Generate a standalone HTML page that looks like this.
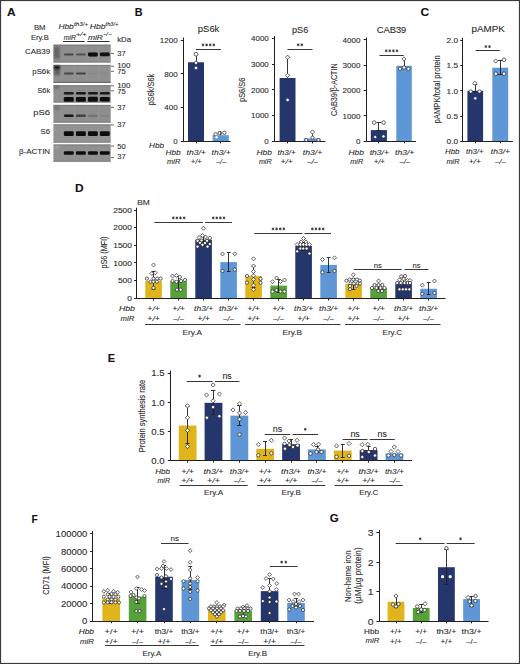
<!DOCTYPE html>
<html><head><meta charset="utf-8"><style>
html,body{margin:0;padding:0;background:#fff;}
body{width:520px;height:664px;overflow:hidden;position:relative;}
svg{position:absolute;left:0;top:0;}
text{font-family:"Liberation Sans",sans-serif;stroke:#2b2b2b;stroke-width:0.1px;}
</style></head><body>
<svg width="520" height="664" viewBox="0 0 520 664">
<defs>
<filter id="bl1" x="-50%" y="-50%" width="200%" height="200%"><feGaussianBlur stdDeviation="0.9"/></filter>
<filter id="bl2" x="-50%" y="-50%" width="200%" height="200%"><feGaussianBlur stdDeviation="0.6"/></filter>
</defs>
<rect x="0" y="0" width="520" height="664" fill="#fff"/>
<text x="7.00" y="15.80" font-size="10.00" fill="#111" style="font-weight:bold" textLength="8.60" lengthAdjust="spacingAndGlyphs">A</text>
<text x="33.90" y="29.60" font-size="7.60" fill="#2b2b2b" textLength="11.60" lengthAdjust="spacingAndGlyphs">BM</text>
<text x="30.90" y="39.70" font-size="7.60" fill="#2b2b2b" textLength="18.00" lengthAdjust="spacingAndGlyphs">Ery.B</text>
<text x="58.40" y="29.40" font-size="7.60" fill="#2b2b2b" style="font-style:italic" textLength="15.40" lengthAdjust="spacingAndGlyphs">Hbb</text>
<text x="74.10" y="26.30" font-size="5.00" fill="#2b2b2b" style="font-style:italic" textLength="13.90" lengthAdjust="spacingAndGlyphs">th3/+</text>
<text x="89.70" y="29.40" font-size="7.60" fill="#2b2b2b" style="font-style:italic" textLength="15.80" lengthAdjust="spacingAndGlyphs">Hbb</text>
<text x="105.60" y="26.30" font-size="5.00" fill="#2b2b2b" style="font-style:italic" textLength="12.70" lengthAdjust="spacingAndGlyphs">th3/+</text>
<text x="63.70" y="39.50" font-size="7.40" fill="#2b2b2b" style="font-style:italic" textLength="12.20" lengthAdjust="spacingAndGlyphs">miR</text>
<text x="76.00" y="36.30" font-size="5.00" fill="#2b2b2b" style="font-style:italic" textLength="10.60" lengthAdjust="spacingAndGlyphs">+/+</text>
<text x="88.00" y="39.50" font-size="7.40" fill="#2b2b2b" style="font-style:italic" textLength="14.80" lengthAdjust="spacingAndGlyphs">miR</text>
<text x="102.90" y="36.30" font-size="5.00" fill="#2b2b2b" style="font-style:italic" textLength="8.60" lengthAdjust="spacingAndGlyphs">−/−</text>
<line x1="63.10" y1="41.50" x2="84.60" y2="41.50" stroke="#2a2a2a" stroke-width="1.00"/>
<line x1="87.30" y1="41.50" x2="109.50" y2="41.50" stroke="#2a2a2a" stroke-width="1.00"/>
<text x="117.20" y="42.40" font-size="7.60" fill="#2b2b2b" textLength="13.80" lengthAdjust="spacingAndGlyphs">kDa</text>
<rect x="53.40" y="44.60" width="57.30" height="18.00" fill="#8f8f8f"/>
<rect x="61.20" y="45.60" width="1.2" height="16.00" fill="#b0b0b0" opacity="0.15"/>
<rect x="73.80" y="45.60" width="1.2" height="16.00" fill="#b0b0b0" opacity="0.15"/>
<rect x="85.70" y="45.60" width="1.2" height="16.00" fill="#b0b0b0" opacity="0.15"/>
<rect x="98.00" y="45.60" width="1.2" height="16.00" fill="#b0b0b0" opacity="0.15"/>
<rect x="53.40" y="44.60" width="57.30" height="1.2" fill="#6a6a6a" opacity="0.45"/>
<rect x="53.40" y="61.60" width="57.30" height="1.0" fill="#505050" opacity="0.35"/>
<text x="24.90" y="53.75" font-size="7.80" fill="#2b2b2b" textLength="25.20" lengthAdjust="spacingAndGlyphs">CAB39</text>
<rect x="53.40" y="64.90" width="57.30" height="17.90" fill="#909090"/>
<rect x="61.20" y="65.90" width="1.2" height="15.90" fill="#b0b0b0" opacity="0.15"/>
<rect x="73.80" y="65.90" width="1.2" height="15.90" fill="#b0b0b0" opacity="0.15"/>
<rect x="85.70" y="65.90" width="1.2" height="15.90" fill="#b0b0b0" opacity="0.15"/>
<rect x="98.00" y="65.90" width="1.2" height="15.90" fill="#b0b0b0" opacity="0.15"/>
<rect x="53.40" y="64.90" width="57.30" height="1.2" fill="#6a6a6a" opacity="0.45"/>
<rect x="53.40" y="81.80" width="57.30" height="1.0" fill="#505050" opacity="0.80"/>
<text x="32.30" y="73.80" font-size="7.80" fill="#2b2b2b" textLength="17.80" lengthAdjust="spacingAndGlyphs">pS6k</text>
<rect x="53.40" y="85.10" width="57.30" height="17.50" fill="#8e8e8e"/>
<rect x="61.20" y="86.10" width="1.2" height="15.50" fill="#b0b0b0" opacity="0.15"/>
<rect x="73.80" y="86.10" width="1.2" height="15.50" fill="#b0b0b0" opacity="0.15"/>
<rect x="85.70" y="86.10" width="1.2" height="15.50" fill="#b0b0b0" opacity="0.15"/>
<rect x="98.00" y="86.10" width="1.2" height="15.50" fill="#b0b0b0" opacity="0.15"/>
<rect x="53.40" y="85.10" width="57.30" height="1.2" fill="#6a6a6a" opacity="0.45"/>
<rect x="53.40" y="101.60" width="57.30" height="1.0" fill="#505050" opacity="0.35"/>
<text x="37.40" y="93.40" font-size="7.80" fill="#2b2b2b" textLength="12.70" lengthAdjust="spacingAndGlyphs">S6k</text>
<rect x="53.40" y="104.90" width="57.30" height="17.80" fill="#8e8e8e"/>
<rect x="61.20" y="105.90" width="1.2" height="15.80" fill="#b0b0b0" opacity="0.15"/>
<rect x="73.80" y="105.90" width="1.2" height="15.80" fill="#b0b0b0" opacity="0.15"/>
<rect x="85.70" y="105.90" width="1.2" height="15.80" fill="#b0b0b0" opacity="0.15"/>
<rect x="98.00" y="105.90" width="1.2" height="15.80" fill="#b0b0b0" opacity="0.15"/>
<rect x="53.40" y="104.90" width="57.30" height="1.2" fill="#6a6a6a" opacity="0.45"/>
<rect x="53.40" y="121.70" width="57.30" height="1.0" fill="#505050" opacity="0.35"/>
<text x="33.20" y="114.60" font-size="7.80" fill="#2b2b2b" textLength="16.90" lengthAdjust="spacingAndGlyphs">pS6</text>
<rect x="53.40" y="124.30" width="57.30" height="18.40" fill="#939393"/>
<rect x="61.20" y="125.30" width="1.2" height="16.40" fill="#b0b0b0" opacity="0.15"/>
<rect x="73.80" y="125.30" width="1.2" height="16.40" fill="#b0b0b0" opacity="0.15"/>
<rect x="85.70" y="125.30" width="1.2" height="16.40" fill="#b0b0b0" opacity="0.15"/>
<rect x="98.00" y="125.30" width="1.2" height="16.40" fill="#b0b0b0" opacity="0.15"/>
<rect x="53.40" y="124.30" width="57.30" height="1.2" fill="#6a6a6a" opacity="0.45"/>
<rect x="53.40" y="141.70" width="57.30" height="1.0" fill="#505050" opacity="0.35"/>
<text x="40.60" y="134.00" font-size="7.80" fill="#2b2b2b" textLength="9.50" lengthAdjust="spacingAndGlyphs">S6</text>
<rect x="53.40" y="144.40" width="57.30" height="17.40" fill="#8f8f8f"/>
<rect x="61.20" y="145.40" width="1.2" height="15.40" fill="#b0b0b0" opacity="0.15"/>
<rect x="73.80" y="145.40" width="1.2" height="15.40" fill="#b0b0b0" opacity="0.15"/>
<rect x="85.70" y="145.40" width="1.2" height="15.40" fill="#b0b0b0" opacity="0.15"/>
<rect x="98.00" y="145.40" width="1.2" height="15.40" fill="#b0b0b0" opacity="0.15"/>
<rect x="53.40" y="144.40" width="57.30" height="1.2" fill="#6a6a6a" opacity="0.45"/>
<rect x="53.40" y="160.80" width="57.30" height="1.0" fill="#505050" opacity="0.35"/>
<text x="19.00" y="153.50" font-size="7.80" fill="#2b2b2b" textLength="31.10" lengthAdjust="spacingAndGlyphs">β-ACTIN</text>
<g filter="url(#bl1)">
<rect x="54.0" y="46.5" width="5.8" height="12" fill="#4a4a4a" opacity="0.6"/>
<rect x="54.0" y="65.8" width="6.0" height="3.4" fill="#050505" opacity="0.95"/>
<rect x="54.0" y="69.2" width="6.0" height="6.0" fill="#404040" opacity="0.6"/>
<rect x="54.0" y="85.8" width="5.0" height="2.6" fill="#505050" opacity="0.6"/>
<rect x="54.0" y="106.0" width="5.6" height="4.0" fill="#606060" opacity="0.55"/>
<rect x="54.4" y="145.6" width="5.0" height="3.0" fill="#bbb" opacity="0.5"/>
</g>
<g filter="url(#bl2)">
<rect x="63.85" y="53.40" width="9.9" height="2.00" rx="1.00" fill="#0c0c0c" opacity="0.50"/>
<rect x="75.95" y="53.40" width="9.9" height="2.00" rx="1.00" fill="#0c0c0c" opacity="0.45"/>
<rect x="87.95" y="52.40" width="9.9" height="4.00" rx="1.30" fill="#0c0c0c" opacity="1.00"/>
<rect x="99.85" y="52.60" width="9.9" height="3.60" rx="1.30" fill="#0c0c0c" opacity="0.97"/>
<rect x="63.85" y="72.40" width="9.9" height="2.00" rx="1.00" fill="#0c0c0c" opacity="0.55"/>
<rect x="75.95" y="72.40" width="9.9" height="2.00" rx="1.00" fill="#0c0c0c" opacity="0.52"/>
<rect x="87.95" y="72.50" width="9.9" height="1.80" rx="0.90" fill="#0c0c0c" opacity="0.06"/>
<rect x="99.85" y="72.50" width="9.9" height="1.80" rx="0.90" fill="#0c0c0c" opacity="0.03"/>
<rect x="63.85" y="92.10" width="9.9" height="2.40" rx="1.20" fill="#0c0c0c" opacity="0.90"/>
<rect x="75.95" y="92.10" width="9.9" height="2.40" rx="1.20" fill="#0c0c0c" opacity="0.90"/>
<rect x="87.95" y="92.10" width="9.9" height="2.40" rx="1.20" fill="#0c0c0c" opacity="0.90"/>
<rect x="99.85" y="92.10" width="9.9" height="2.40" rx="1.20" fill="#0c0c0c" opacity="0.90"/>
<rect x="63.85" y="96.90" width="9.9" height="4.80" rx="1.30" fill="#0c0c0c" opacity="1.00"/>
<rect x="75.95" y="96.90" width="9.9" height="4.80" rx="1.30" fill="#0c0c0c" opacity="1.00"/>
<rect x="87.95" y="96.80" width="9.9" height="5.00" rx="1.30" fill="#0c0c0c" opacity="1.00"/>
<rect x="99.85" y="97.00" width="9.9" height="4.60" rx="1.30" fill="#0c0c0c" opacity="1.00"/>
<rect x="63.85" y="114.50" width="9.9" height="2.60" rx="1.30" fill="#0c0c0c" opacity="0.92"/>
<rect x="75.95" y="114.60" width="9.9" height="2.40" rx="1.20" fill="#0c0c0c" opacity="0.60"/>
<rect x="87.95" y="114.70" width="9.9" height="2.20" rx="1.10" fill="#0c0c0c" opacity="0.20"/>
<rect x="99.85" y="114.70" width="9.9" height="2.20" rx="1.10" fill="#0c0c0c" opacity="0.07"/>
<rect x="63.85" y="131.35" width="9.9" height="4.70" rx="1.30" fill="#0c0c0c" opacity="1.00"/>
<rect x="75.95" y="131.35" width="9.9" height="4.70" rx="1.30" fill="#0c0c0c" opacity="1.00"/>
<rect x="87.95" y="131.35" width="9.9" height="4.70" rx="1.30" fill="#0c0c0c" opacity="1.00"/>
<rect x="99.85" y="131.35" width="9.9" height="4.70" rx="1.30" fill="#0c0c0c" opacity="1.00"/>
<rect x="63.85" y="151.20" width="9.9" height="3.60" rx="1.30" fill="#0c0c0c" opacity="1.00"/>
<rect x="75.95" y="151.20" width="9.9" height="3.60" rx="1.30" fill="#0c0c0c" opacity="1.00"/>
<rect x="87.95" y="151.20" width="9.9" height="3.60" rx="1.30" fill="#0c0c0c" opacity="1.00"/>
<rect x="99.85" y="151.20" width="9.9" height="3.60" rx="1.30" fill="#0c0c0c" opacity="1.00"/>
</g>
<line x1="111.00" y1="53.40" x2="114.00" y2="53.40" stroke="#444" stroke-width="0.80"/>
<text x="117.20" y="55.80" font-size="7.20" fill="#2b2b2b" textLength="8.40" lengthAdjust="spacingAndGlyphs">37</text>
<line x1="111.00" y1="66.30" x2="114.00" y2="66.30" stroke="#444" stroke-width="0.80"/>
<text x="117.20" y="68.10" font-size="7.20" fill="#2b2b2b" textLength="13.30" lengthAdjust="spacingAndGlyphs">100</text>
<line x1="111.00" y1="71.30" x2="114.00" y2="71.30" stroke="#444" stroke-width="0.80"/>
<text x="117.20" y="74.20" font-size="7.20" fill="#2b2b2b" textLength="8.40" lengthAdjust="spacingAndGlyphs">75</text>
<line x1="111.00" y1="85.80" x2="114.00" y2="85.80" stroke="#444" stroke-width="0.80"/>
<text x="117.20" y="87.90" font-size="7.20" fill="#2b2b2b" textLength="13.30" lengthAdjust="spacingAndGlyphs">100</text>
<line x1="111.00" y1="90.80" x2="114.00" y2="90.80" stroke="#444" stroke-width="0.80"/>
<text x="117.20" y="94.40" font-size="7.20" fill="#2b2b2b" textLength="8.40" lengthAdjust="spacingAndGlyphs">75</text>
<line x1="111.00" y1="107.40" x2="114.00" y2="107.40" stroke="#444" stroke-width="0.80"/>
<text x="117.20" y="109.50" font-size="7.20" fill="#2b2b2b" textLength="8.40" lengthAdjust="spacingAndGlyphs">37</text>
<line x1="111.00" y1="125.00" x2="114.00" y2="125.00" stroke="#444" stroke-width="0.80"/>
<text x="117.20" y="127.10" font-size="7.20" fill="#2b2b2b" textLength="8.40" lengthAdjust="spacingAndGlyphs">37</text>
<line x1="111.00" y1="146.10" x2="114.00" y2="146.10" stroke="#444" stroke-width="0.80"/>
<text x="117.20" y="148.50" font-size="7.20" fill="#2b2b2b" textLength="8.40" lengthAdjust="spacingAndGlyphs">50</text>
<line x1="111.00" y1="157.60" x2="114.00" y2="157.60" stroke="#444" stroke-width="0.80"/>
<text x="117.20" y="159.40" font-size="7.20" fill="#2b2b2b" textLength="8.40" lengthAdjust="spacingAndGlyphs">37</text>
<text x="134.80" y="15.90" font-size="10.00" fill="#111" style="font-weight:bold" textLength="7.80" lengthAdjust="spacingAndGlyphs">B</text>
<rect x="188.00" y="62.26" width="16.00" height="78.94" fill="#25366C"/>
<rect x="212.70" y="135.20" width="16.10" height="6.00" fill="#5E96D6"/>
<line x1="183.50" y1="37.60" x2="183.50" y2="141.70" stroke="#231F20" stroke-width="1.00"/>
<line x1="180.80" y1="141.50" x2="183.40" y2="141.50" stroke="#231F20" stroke-width="1.00"/>
<text x="173.15" y="144.08" font-size="8.00" fill="#2b2b2b" textLength="4.45" lengthAdjust="spacingAndGlyphs">0</text>
<line x1="180.80" y1="107.50" x2="183.40" y2="107.50" stroke="#231F20" stroke-width="1.00"/>
<text x="164.25" y="110.38" font-size="8.00" fill="#2b2b2b" textLength="13.35" lengthAdjust="spacingAndGlyphs">400</text>
<line x1="180.80" y1="73.50" x2="183.40" y2="73.50" stroke="#231F20" stroke-width="1.00"/>
<text x="164.25" y="76.68" font-size="8.00" fill="#2b2b2b" textLength="13.35" lengthAdjust="spacingAndGlyphs">800</text>
<line x1="180.80" y1="40.50" x2="183.40" y2="40.50" stroke="#231F20" stroke-width="1.00"/>
<text x="159.80" y="42.98" font-size="8.00" fill="#2b2b2b" textLength="17.80" lengthAdjust="spacingAndGlyphs">1200</text>
<line x1="183.40" y1="141.50" x2="230.60" y2="141.50" stroke="#231F20" stroke-width="1.00"/>
<line x1="196.50" y1="141.20" x2="196.50" y2="143.40" stroke="#231F20" stroke-width="1.00"/>
<line x1="220.50" y1="141.20" x2="220.50" y2="143.40" stroke="#231F20" stroke-width="1.00"/>
<text x="208.60" y="32.20" font-size="8.60" fill="#2b2b2b" text-anchor="middle" textLength="21.50" lengthAdjust="spacingAndGlyphs">pS6k</text>
<text transform="translate(153.94 89.50) rotate(-90)" x="0" y="0" font-size="9.00" fill="#2b2b2b" text-anchor="middle" textLength="31.60" lengthAdjust="spacingAndGlyphs">pS6k/S6k</text>
<line x1="195.90" y1="49.50" x2="220.90" y2="49.50" stroke="#231F20" stroke-width="0.90"/>
<path d="M203.00 43.85L203.00 45.95M202.09 44.38L203.91 45.43M202.09 45.43L203.91 44.38" stroke="#231F20" stroke-width="0.75" stroke-linecap="round"/>
<path d="M206.60 43.85L206.60 45.95M205.69 44.38L207.51 45.43M205.69 45.43L207.51 44.38" stroke="#231F20" stroke-width="0.75" stroke-linecap="round"/>
<path d="M210.20 43.85L210.20 45.95M209.29 44.38L211.11 45.43M209.29 45.43L211.11 44.38" stroke="#231F20" stroke-width="0.75" stroke-linecap="round"/>
<path d="M213.80 43.85L213.80 45.95M212.89 44.38L214.71 45.43M212.89 45.43L214.71 44.38" stroke="#231F20" stroke-width="0.75" stroke-linecap="round"/>
<text x="165.60" y="154.50" font-size="7.60" fill="#2b2b2b" style="font-style:italic" textLength="15.00" lengthAdjust="spacingAndGlyphs">Hbb</text>
<text x="167.10" y="163.90" font-size="7.60" fill="#2b2b2b" style="font-style:italic" textLength="13.40" lengthAdjust="spacingAndGlyphs">miR</text>
<text x="196.20" y="154.50" font-size="7.60" fill="#2b2b2b" text-anchor="middle" style="font-style:italic" textLength="19.40" lengthAdjust="spacingAndGlyphs">th3/+</text>
<text x="196.20" y="163.90" font-size="7.60" fill="#2b2b2b" text-anchor="middle" style="font-style:italic" textLength="11.00" lengthAdjust="spacingAndGlyphs">+/+</text>
<text x="221.10" y="154.50" font-size="7.60" fill="#2b2b2b" text-anchor="middle" style="font-style:italic" textLength="19.00" lengthAdjust="spacingAndGlyphs">th3/+</text>
<text x="221.10" y="163.90" font-size="7.60" fill="#2b2b2b" text-anchor="middle" style="font-style:italic" textLength="10.40" lengthAdjust="spacingAndGlyphs">–/–</text>
<text x="149.00" y="147.60" font-size="7.60" fill="#2b2b2b" style="font-style:italic" textLength="15.00" lengthAdjust="spacingAndGlyphs">Hbb</text>
<line x1="196.50" y1="54.20" x2="196.50" y2="62.30" stroke="#231F20" stroke-width="0.90"/>
<line x1="196.00" y1="54.50" x2="196.00" y2="54.50" stroke="#231F20" stroke-width="0.90"/>
<line x1="196.00" y1="62.50" x2="196.00" y2="62.50" stroke="#231F20" stroke-width="0.90"/>
<circle cx="196.00" cy="54.20" r="1.90" fill="#fff" stroke="#231F20" stroke-width="0.70"/>
<circle cx="196.00" cy="62.80" r="1.70" fill="#fff" stroke="#25366C" stroke-width="0.70"/>
<circle cx="196.00" cy="67.90" r="1.70" fill="#fff" stroke="#25366C" stroke-width="0.70"/>
<circle cx="215.60" cy="134.20" r="1.70" fill="#fff" stroke="#231F20" stroke-width="0.70"/>
<circle cx="219.80" cy="133.00" r="1.70" fill="#fff" stroke="#231F20" stroke-width="0.70"/>
<circle cx="224.40" cy="132.80" r="1.70" fill="#fff" stroke="#231F20" stroke-width="0.70"/>
<circle cx="216.50" cy="137.20" r="1.60" fill="#fff" stroke="#5E96D6" stroke-width="0.70"/>
<line x1="220.80" y1="131.50" x2="220.80" y2="135.20" stroke="#231F20" stroke-width="0.80"/>
<rect x="279.60" y="78.00" width="15.90" height="63.20" fill="#25366C"/>
<rect x="303.80" y="138.40" width="16.80" height="2.80" fill="#5E96D6"/>
<line x1="274.50" y1="36.00" x2="274.50" y2="141.70" stroke="#231F20" stroke-width="1.00"/>
<line x1="272.00" y1="141.50" x2="274.60" y2="141.50" stroke="#231F20" stroke-width="1.00"/>
<text x="264.35" y="144.08" font-size="8.00" fill="#2b2b2b" textLength="4.45" lengthAdjust="spacingAndGlyphs">0</text>
<line x1="272.00" y1="115.50" x2="274.60" y2="115.50" stroke="#231F20" stroke-width="1.00"/>
<text x="251.00" y="118.35" font-size="8.00" fill="#2b2b2b" textLength="17.80" lengthAdjust="spacingAndGlyphs">1000</text>
<line x1="272.00" y1="89.50" x2="274.60" y2="89.50" stroke="#231F20" stroke-width="1.00"/>
<text x="251.00" y="92.63" font-size="8.00" fill="#2b2b2b" textLength="17.80" lengthAdjust="spacingAndGlyphs">2000</text>
<line x1="272.00" y1="64.50" x2="274.60" y2="64.50" stroke="#231F20" stroke-width="1.00"/>
<text x="251.00" y="66.90" font-size="8.00" fill="#2b2b2b" textLength="17.80" lengthAdjust="spacingAndGlyphs">3000</text>
<line x1="272.00" y1="38.50" x2="274.60" y2="38.50" stroke="#231F20" stroke-width="1.00"/>
<text x="251.00" y="41.18" font-size="8.00" fill="#2b2b2b" textLength="17.80" lengthAdjust="spacingAndGlyphs">4000</text>
<line x1="274.60" y1="141.50" x2="325.40" y2="141.50" stroke="#231F20" stroke-width="1.00"/>
<line x1="287.50" y1="141.20" x2="287.50" y2="143.40" stroke="#231F20" stroke-width="1.00"/>
<line x1="312.50" y1="141.20" x2="312.50" y2="143.40" stroke="#231F20" stroke-width="1.00"/>
<text x="300.10" y="32.50" font-size="8.60" fill="#2b2b2b" text-anchor="middle" textLength="16.20" lengthAdjust="spacingAndGlyphs">pS6</text>
<text transform="translate(245.24 89.80) rotate(-90)" x="0" y="0" font-size="9.00" fill="#2b2b2b" text-anchor="middle" textLength="24.40" lengthAdjust="spacingAndGlyphs">pS6/S6</text>
<line x1="287.40" y1="49.50" x2="312.50" y2="49.50" stroke="#231F20" stroke-width="0.90"/>
<path d="M298.15 43.75L298.15 45.85M297.24 44.28L299.06 45.33M297.24 45.33L299.06 44.28" stroke="#231F20" stroke-width="0.75" stroke-linecap="round"/>
<path d="M301.75 43.75L301.75 45.85M300.84 44.28L302.66 45.33M300.84 45.33L302.66 44.28" stroke="#231F20" stroke-width="0.75" stroke-linecap="round"/>
<text x="256.50" y="154.60" font-size="7.60" fill="#2b2b2b" style="font-style:italic" textLength="15.40" lengthAdjust="spacingAndGlyphs">Hbb</text>
<text x="258.90" y="163.60" font-size="7.60" fill="#2b2b2b" style="font-style:italic" textLength="12.70" lengthAdjust="spacingAndGlyphs">miR</text>
<text x="286.60" y="154.60" font-size="7.60" fill="#2b2b2b" text-anchor="middle" style="font-style:italic" textLength="18.20" lengthAdjust="spacingAndGlyphs">th3/+</text>
<text x="286.60" y="163.60" font-size="7.60" fill="#2b2b2b" text-anchor="middle" style="font-style:italic" textLength="12.30" lengthAdjust="spacingAndGlyphs">+/+</text>
<text x="312.50" y="154.60" font-size="7.60" fill="#2b2b2b" text-anchor="middle" style="font-style:italic" textLength="19.50" lengthAdjust="spacingAndGlyphs">th3/+</text>
<text x="312.50" y="163.60" font-size="7.60" fill="#2b2b2b" text-anchor="middle" style="font-style:italic" textLength="10.80" lengthAdjust="spacingAndGlyphs">–/–</text>
<line x1="287.50" y1="57.20" x2="287.50" y2="78.00" stroke="#231F20" stroke-width="0.90"/>
<line x1="287.60" y1="57.50" x2="287.60" y2="57.50" stroke="#231F20" stroke-width="0.90"/>
<line x1="287.60" y1="78.50" x2="287.60" y2="78.50" stroke="#231F20" stroke-width="0.90"/>
<path d="M287.60 55.10L289.70 57.20L287.60 59.30L285.50 57.20Z" fill="#fff" stroke="#231F20" stroke-width="0.70"/>
<path d="M287.60 73.30L289.70 75.40L287.60 77.50L285.50 75.40Z" fill="#fff" stroke="#231F20" stroke-width="0.70"/>
<circle cx="287.60" cy="99.90" r="1.70" fill="#fff" stroke="#25366C" stroke-width="0.70"/>
<line x1="312.50" y1="132.00" x2="312.50" y2="138.40" stroke="#231F20" stroke-width="0.80"/>
<path d="M312.50 129.90L314.60 132.00L312.50 134.10L310.40 132.00Z" fill="#fff" stroke="#231F20" stroke-width="0.70"/>
<circle cx="306.20" cy="140.00" r="1.60" fill="#fff" stroke="#231F20" stroke-width="0.70"/>
<circle cx="312.50" cy="137.60" r="1.60" fill="#fff" stroke="#231F20" stroke-width="0.70"/>
<circle cx="318.40" cy="140.00" r="1.60" fill="#fff" stroke="#231F20" stroke-width="0.70"/>
<rect x="370.80" y="130.10" width="16.10" height="11.10" fill="#25366C"/>
<rect x="396.30" y="65.80" width="15.50" height="75.40" fill="#5E96D6"/>
<line x1="366.50" y1="37.50" x2="366.50" y2="141.70" stroke="#231F20" stroke-width="1.00"/>
<line x1="363.60" y1="141.50" x2="366.20" y2="141.50" stroke="#231F20" stroke-width="1.00"/>
<text x="355.95" y="144.08" font-size="8.00" fill="#2b2b2b" textLength="4.45" lengthAdjust="spacingAndGlyphs">0</text>
<line x1="363.60" y1="115.50" x2="366.20" y2="115.50" stroke="#231F20" stroke-width="1.00"/>
<text x="342.60" y="118.75" font-size="8.00" fill="#2b2b2b" textLength="17.80" lengthAdjust="spacingAndGlyphs">1000</text>
<line x1="363.60" y1="90.50" x2="366.20" y2="90.50" stroke="#231F20" stroke-width="1.00"/>
<text x="342.60" y="93.43" font-size="8.00" fill="#2b2b2b" textLength="17.80" lengthAdjust="spacingAndGlyphs">2000</text>
<line x1="363.60" y1="65.50" x2="366.20" y2="65.50" stroke="#231F20" stroke-width="1.00"/>
<text x="342.60" y="68.10" font-size="8.00" fill="#2b2b2b" textLength="17.80" lengthAdjust="spacingAndGlyphs">3000</text>
<line x1="363.60" y1="39.50" x2="366.20" y2="39.50" stroke="#231F20" stroke-width="1.00"/>
<text x="342.60" y="42.78" font-size="8.00" fill="#2b2b2b" textLength="17.80" lengthAdjust="spacingAndGlyphs">4000</text>
<line x1="366.20" y1="141.50" x2="416.00" y2="141.50" stroke="#231F20" stroke-width="1.00"/>
<line x1="378.50" y1="141.20" x2="378.50" y2="143.40" stroke="#231F20" stroke-width="1.00"/>
<line x1="404.50" y1="141.20" x2="404.50" y2="143.40" stroke="#231F20" stroke-width="1.00"/>
<text x="391.50" y="32.50" font-size="8.60" fill="#2b2b2b" text-anchor="middle" textLength="29.70" lengthAdjust="spacingAndGlyphs">CAB39</text>
<text transform="translate(336.67 89.70) rotate(-90)" x="0" y="0" font-size="8.80" fill="#2b2b2b" text-anchor="middle" textLength="52.50" lengthAdjust="spacingAndGlyphs">CAB39/β-ACTIN</text>
<line x1="379.50" y1="55.50" x2="403.70" y2="55.50" stroke="#231F20" stroke-width="0.90"/>
<path d="M386.20 49.75L386.20 51.85M385.29 50.28L387.11 51.33M385.29 51.33L387.11 50.28" stroke="#231F20" stroke-width="0.75" stroke-linecap="round"/>
<path d="M389.80 49.75L389.80 51.85M388.89 50.28L390.71 51.33M388.89 51.33L390.71 50.28" stroke="#231F20" stroke-width="0.75" stroke-linecap="round"/>
<path d="M393.40 49.75L393.40 51.85M392.49 50.28L394.31 51.33M392.49 51.33L394.31 50.28" stroke="#231F20" stroke-width="0.75" stroke-linecap="round"/>
<path d="M397.00 49.75L397.00 51.85M396.09 50.28L397.91 51.33M396.09 51.33L397.91 50.28" stroke="#231F20" stroke-width="0.75" stroke-linecap="round"/>
<text x="348.50" y="154.60" font-size="7.60" fill="#2b2b2b" style="font-style:italic" textLength="15.40" lengthAdjust="spacingAndGlyphs">Hbb</text>
<text x="350.20" y="163.60" font-size="7.60" fill="#2b2b2b" style="font-style:italic" textLength="13.00" lengthAdjust="spacingAndGlyphs">miR</text>
<text x="379.30" y="154.60" font-size="7.60" fill="#2b2b2b" text-anchor="middle" style="font-style:italic" textLength="19.20" lengthAdjust="spacingAndGlyphs">th3/+</text>
<text x="379.30" y="163.60" font-size="7.60" fill="#2b2b2b" text-anchor="middle" style="font-style:italic" textLength="11.10" lengthAdjust="spacingAndGlyphs">+/+</text>
<text x="404.70" y="154.60" font-size="7.60" fill="#2b2b2b" text-anchor="middle" style="font-style:italic" textLength="19.40" lengthAdjust="spacingAndGlyphs">th3/+</text>
<text x="404.70" y="163.60" font-size="7.60" fill="#2b2b2b" text-anchor="middle" style="font-style:italic" textLength="10.50" lengthAdjust="spacingAndGlyphs">–/–</text>
<line x1="378.50" y1="122.60" x2="378.50" y2="130.10" stroke="#231F20" stroke-width="0.90"/>
<line x1="376.40" y1="122.50" x2="381.20" y2="122.50" stroke="#231F20" stroke-width="0.90"/>
<line x1="376.40" y1="130.50" x2="381.20" y2="130.50" stroke="#231F20" stroke-width="0.90"/>
<circle cx="374.20" cy="122.60" r="1.80" fill="#fff" stroke="#231F20" stroke-width="0.70"/>
<circle cx="383.60" cy="122.60" r="1.80" fill="#fff" stroke="#231F20" stroke-width="0.70"/>
<circle cx="375.20" cy="137.00" r="1.60" fill="#fff" stroke="#25366C" stroke-width="0.70"/>
<circle cx="383.50" cy="136.40" r="1.60" fill="#fff" stroke="#25366C" stroke-width="0.70"/>
<line x1="404.50" y1="59.50" x2="404.50" y2="65.80" stroke="#231F20" stroke-width="0.90"/>
<line x1="404.00" y1="59.50" x2="404.00" y2="59.50" stroke="#231F20" stroke-width="0.90"/>
<line x1="404.00" y1="65.50" x2="404.00" y2="65.50" stroke="#231F20" stroke-width="0.90"/>
<path d="M404.00 56.90L406.10 59.00L404.00 61.10L401.90 59.00Z" fill="#fff" stroke="#231F20" stroke-width="0.70"/>
<circle cx="400.00" cy="68.80" r="1.70" fill="#fff" stroke="#231F20" stroke-width="0.70"/>
<circle cx="404.00" cy="67.50" r="1.70" fill="#fff" stroke="#231F20" stroke-width="0.70"/>
<circle cx="408.40" cy="68.80" r="1.70" fill="#fff" stroke="#231F20" stroke-width="0.70"/>
<text x="420.50" y="16.20" font-size="10.00" fill="#111" style="font-weight:bold" textLength="8.70" lengthAdjust="spacingAndGlyphs">C</text>
<rect x="467.40" y="90.80" width="15.70" height="50.40" fill="#25366C"/>
<rect x="492.30" y="67.70" width="15.90" height="73.50" fill="#5E96D6"/>
<line x1="462.50" y1="37.80" x2="462.50" y2="141.70" stroke="#231F20" stroke-width="1.00"/>
<line x1="460.20" y1="141.50" x2="462.80" y2="141.50" stroke="#231F20" stroke-width="1.00"/>
<text x="446.60" y="144.08" font-size="8.00" fill="#2b2b2b" textLength="11.50" lengthAdjust="spacingAndGlyphs">0.0</text>
<line x1="460.20" y1="116.50" x2="462.80" y2="116.50" stroke="#231F20" stroke-width="1.00"/>
<text x="446.60" y="118.88" font-size="8.00" fill="#2b2b2b" textLength="11.50" lengthAdjust="spacingAndGlyphs">0.5</text>
<line x1="460.20" y1="90.50" x2="462.80" y2="90.50" stroke="#231F20" stroke-width="1.00"/>
<text x="446.60" y="93.68" font-size="8.00" fill="#2b2b2b" textLength="11.50" lengthAdjust="spacingAndGlyphs">1.0</text>
<line x1="460.20" y1="65.50" x2="462.80" y2="65.50" stroke="#231F20" stroke-width="1.00"/>
<text x="446.60" y="68.48" font-size="8.00" fill="#2b2b2b" textLength="11.50" lengthAdjust="spacingAndGlyphs">1.5</text>
<line x1="460.20" y1="40.50" x2="462.80" y2="40.50" stroke="#231F20" stroke-width="1.00"/>
<text x="446.60" y="43.28" font-size="8.00" fill="#2b2b2b" textLength="11.50" lengthAdjust="spacingAndGlyphs">2.0</text>
<line x1="462.80" y1="141.50" x2="512.80" y2="141.50" stroke="#231F20" stroke-width="1.00"/>
<line x1="475.50" y1="141.20" x2="475.50" y2="143.40" stroke="#231F20" stroke-width="1.00"/>
<line x1="500.50" y1="141.20" x2="500.50" y2="143.40" stroke="#231F20" stroke-width="1.00"/>
<text x="488.20" y="32.30" font-size="8.60" fill="#2b2b2b" text-anchor="middle" textLength="33.30" lengthAdjust="spacingAndGlyphs">pAMPK</text>
<text transform="translate(440.10 89.30) rotate(-90)" x="0" y="0" font-size="8.60" fill="#2b2b2b" text-anchor="middle" textLength="68.20" lengthAdjust="spacingAndGlyphs">pAMPK/total protein</text>
<line x1="475.60" y1="50.50" x2="499.80" y2="50.50" stroke="#231F20" stroke-width="0.90"/>
<path d="M485.90 45.55L485.90 47.65M484.99 46.08L486.81 47.12M484.99 47.12L486.81 46.08" stroke="#231F20" stroke-width="0.75" stroke-linecap="round"/>
<path d="M489.50 45.55L489.50 47.65M488.59 46.08L490.41 47.12M488.59 47.12L490.41 46.08" stroke="#231F20" stroke-width="0.75" stroke-linecap="round"/>
<text x="445.00" y="154.40" font-size="7.60" fill="#2b2b2b" style="font-style:italic" textLength="14.50" lengthAdjust="spacingAndGlyphs">Hbb</text>
<text x="446.50" y="163.50" font-size="7.60" fill="#2b2b2b" style="font-style:italic" textLength="13.00" lengthAdjust="spacingAndGlyphs">miR</text>
<text x="474.80" y="154.40" font-size="7.60" fill="#2b2b2b" text-anchor="middle" style="font-style:italic" textLength="17.60" lengthAdjust="spacingAndGlyphs">th3/+</text>
<text x="474.80" y="163.50" font-size="7.60" fill="#2b2b2b" text-anchor="middle" style="font-style:italic" textLength="12.20" lengthAdjust="spacingAndGlyphs">+/+</text>
<text x="500.40" y="154.40" font-size="7.60" fill="#2b2b2b" text-anchor="middle" style="font-style:italic" textLength="19.20" lengthAdjust="spacingAndGlyphs">th3/+</text>
<text x="500.40" y="163.50" font-size="7.60" fill="#2b2b2b" text-anchor="middle" style="font-style:italic" textLength="10.90" lengthAdjust="spacingAndGlyphs">–/–</text>
<line x1="475.50" y1="84.50" x2="475.50" y2="91.30" stroke="#231F20" stroke-width="0.90"/>
<line x1="473.20" y1="84.50" x2="477.20" y2="84.50" stroke="#231F20" stroke-width="0.90"/>
<line x1="473.20" y1="91.50" x2="477.20" y2="91.50" stroke="#231F20" stroke-width="0.90"/>
<path d="M474.90 81.20L477.00 83.30L474.90 85.40L472.80 83.30Z" fill="#fff" stroke="#231F20" stroke-width="0.70"/>
<circle cx="470.70" cy="91.50" r="1.70" fill="#fff" stroke="#231F20" stroke-width="0.70"/>
<circle cx="479.50" cy="91.50" r="1.70" fill="#fff" stroke="#231F20" stroke-width="0.70"/>
<circle cx="475.30" cy="98.30" r="1.60" fill="#fff" stroke="#25366C" stroke-width="0.70"/>
<line x1="500.50" y1="60.30" x2="500.50" y2="74.00" stroke="#231F20" stroke-width="0.90"/>
<line x1="498.00" y1="60.50" x2="502.40" y2="60.50" stroke="#231F20" stroke-width="0.90"/>
<line x1="498.00" y1="74.50" x2="502.40" y2="74.50" stroke="#231F20" stroke-width="0.90"/>
<path d="M495.60 58.90L497.70 61.00L495.60 63.10L493.50 61.00Z" fill="#fff" stroke="#231F20" stroke-width="0.70"/>
<circle cx="504.00" cy="59.80" r="1.80" fill="#fff" stroke="#231F20" stroke-width="0.70"/>
<circle cx="495.80" cy="73.70" r="1.80" fill="#fff" stroke="#231F20" stroke-width="0.70"/>
<circle cx="504.00" cy="73.70" r="1.80" fill="#fff" stroke="#231F20" stroke-width="0.70"/>
<text x="75.00" y="191.70" font-size="11.00" fill="#111" style="font-weight:bold" textLength="8.60" lengthAdjust="spacingAndGlyphs">D</text>
<text x="137.30" y="204.80" font-size="7.60" fill="#2b2b2b" textLength="12.50" lengthAdjust="spacingAndGlyphs">BM</text>
<rect x="145.30" y="280.99" width="16.60" height="17.31" fill="#E0B51C"/>
<rect x="170.30" y="281.35" width="16.60" height="16.95" fill="#55A239"/>
<rect x="195.30" y="239.67" width="16.60" height="58.63" fill="#25366C"/>
<rect x="220.30" y="262.10" width="16.60" height="36.20" fill="#5E96D6"/>
<rect x="245.30" y="276.05" width="16.60" height="22.25" fill="#E0B51C"/>
<rect x="270.30" y="285.58" width="16.60" height="12.72" fill="#55A239"/>
<rect x="295.30" y="246.03" width="16.60" height="52.27" fill="#25366C"/>
<rect x="320.30" y="264.89" width="16.60" height="33.41" fill="#5E96D6"/>
<rect x="345.30" y="283.82" width="16.60" height="14.48" fill="#E0B51C"/>
<rect x="370.30" y="288.06" width="16.60" height="10.24" fill="#55A239"/>
<rect x="395.30" y="283.82" width="16.60" height="14.48" fill="#25366C"/>
<rect x="420.30" y="288.76" width="16.60" height="9.54" fill="#5E96D6"/>
<line x1="136.50" y1="207.70" x2="136.50" y2="298.80" stroke="#231F20" stroke-width="1.00"/>
<line x1="134.10" y1="298.50" x2="136.70" y2="298.50" stroke="#231F20" stroke-width="1.00"/>
<text x="127.30" y="301.11" font-size="7.80" fill="#2b2b2b" textLength="4.70" lengthAdjust="spacingAndGlyphs">0</text>
<line x1="134.10" y1="280.50" x2="136.70" y2="280.50" stroke="#231F20" stroke-width="1.00"/>
<text x="117.90" y="283.45" font-size="7.80" fill="#2b2b2b" textLength="14.10" lengthAdjust="spacingAndGlyphs">500</text>
<line x1="134.10" y1="262.50" x2="136.70" y2="262.50" stroke="#231F20" stroke-width="1.00"/>
<text x="113.20" y="265.79" font-size="7.80" fill="#2b2b2b" textLength="18.80" lengthAdjust="spacingAndGlyphs">1000</text>
<line x1="134.10" y1="245.50" x2="136.70" y2="245.50" stroke="#231F20" stroke-width="1.00"/>
<text x="113.20" y="248.13" font-size="7.80" fill="#2b2b2b" textLength="18.80" lengthAdjust="spacingAndGlyphs">1500</text>
<line x1="134.10" y1="227.50" x2="136.70" y2="227.50" stroke="#231F20" stroke-width="1.00"/>
<text x="113.20" y="230.47" font-size="7.80" fill="#2b2b2b" textLength="18.80" lengthAdjust="spacingAndGlyphs">2000</text>
<line x1="134.10" y1="210.50" x2="136.70" y2="210.50" stroke="#231F20" stroke-width="1.00"/>
<text x="113.20" y="212.81" font-size="7.80" fill="#2b2b2b" textLength="18.80" lengthAdjust="spacingAndGlyphs">2500</text>
<line x1="136.70" y1="298.50" x2="445.50" y2="298.50" stroke="#231F20" stroke-width="1.00"/>
<line x1="153.50" y1="298.30" x2="153.50" y2="300.50" stroke="#231F20" stroke-width="1.00"/>
<line x1="178.50" y1="298.30" x2="178.50" y2="300.50" stroke="#231F20" stroke-width="1.00"/>
<line x1="203.50" y1="298.30" x2="203.50" y2="300.50" stroke="#231F20" stroke-width="1.00"/>
<line x1="228.50" y1="298.30" x2="228.50" y2="300.50" stroke="#231F20" stroke-width="1.00"/>
<line x1="253.50" y1="298.30" x2="253.50" y2="300.50" stroke="#231F20" stroke-width="1.00"/>
<line x1="278.50" y1="298.30" x2="278.50" y2="300.50" stroke="#231F20" stroke-width="1.00"/>
<line x1="303.50" y1="298.30" x2="303.50" y2="300.50" stroke="#231F20" stroke-width="1.00"/>
<line x1="328.50" y1="298.30" x2="328.50" y2="300.50" stroke="#231F20" stroke-width="1.00"/>
<line x1="353.50" y1="298.30" x2="353.50" y2="300.50" stroke="#231F20" stroke-width="1.00"/>
<line x1="378.50" y1="298.30" x2="378.50" y2="300.50" stroke="#231F20" stroke-width="1.00"/>
<line x1="403.50" y1="298.30" x2="403.50" y2="300.50" stroke="#231F20" stroke-width="1.00"/>
<line x1="428.50" y1="298.30" x2="428.50" y2="300.50" stroke="#231F20" stroke-width="1.00"/>
<text transform="translate(107.10 252.50) rotate(-90)" x="0" y="0" font-size="8.60" fill="#2b2b2b" text-anchor="middle" textLength="32.00" lengthAdjust="spacingAndGlyphs">pS6 (MFI)</text>
<line x1="154.40" y1="222.50" x2="203.00" y2="222.50" stroke="#231F20" stroke-width="0.90"/>
<path d="M173.30 216.85L173.30 218.95M172.39 217.37L174.21 218.42M172.39 218.42L174.21 217.37" stroke="#231F20" stroke-width="0.75" stroke-linecap="round"/>
<path d="M176.90 216.85L176.90 218.95M175.99 217.37L177.81 218.42M175.99 218.42L177.81 217.37" stroke="#231F20" stroke-width="0.75" stroke-linecap="round"/>
<path d="M180.50 216.85L180.50 218.95M179.59 217.37L181.41 218.42M179.59 218.42L181.41 217.37" stroke="#231F20" stroke-width="0.75" stroke-linecap="round"/>
<path d="M184.10 216.85L184.10 218.95M183.19 217.37L185.01 218.42M183.19 218.42L185.01 217.37" stroke="#231F20" stroke-width="0.75" stroke-linecap="round"/>
<line x1="205.20" y1="222.50" x2="232.00" y2="222.50" stroke="#231F20" stroke-width="0.90"/>
<path d="M213.20 216.85L213.20 218.95M212.29 217.37L214.11 218.42M212.29 218.42L214.11 217.37" stroke="#231F20" stroke-width="0.75" stroke-linecap="round"/>
<path d="M216.80 216.85L216.80 218.95M215.89 217.37L217.71 218.42M215.89 218.42L217.71 217.37" stroke="#231F20" stroke-width="0.75" stroke-linecap="round"/>
<path d="M220.40 216.85L220.40 218.95M219.49 217.37L221.31 218.42M219.49 218.42L221.31 217.37" stroke="#231F20" stroke-width="0.75" stroke-linecap="round"/>
<path d="M224.00 216.85L224.00 218.95M223.09 217.37L224.91 218.42M223.09 218.42L224.91 217.37" stroke="#231F20" stroke-width="0.75" stroke-linecap="round"/>
<line x1="254.40" y1="233.50" x2="302.40" y2="233.50" stroke="#231F20" stroke-width="0.90"/>
<path d="M273.00 227.85L273.00 229.95M272.09 228.37L273.91 229.42M272.09 229.42L273.91 228.37" stroke="#231F20" stroke-width="0.75" stroke-linecap="round"/>
<path d="M276.60 227.85L276.60 229.95M275.69 228.37L277.51 229.42M275.69 229.42L277.51 228.37" stroke="#231F20" stroke-width="0.75" stroke-linecap="round"/>
<path d="M280.20 227.85L280.20 229.95M279.29 228.37L281.11 229.42M279.29 229.42L281.11 228.37" stroke="#231F20" stroke-width="0.75" stroke-linecap="round"/>
<path d="M283.80 227.85L283.80 229.95M282.89 228.37L284.71 229.42M282.89 229.42L284.71 228.37" stroke="#231F20" stroke-width="0.75" stroke-linecap="round"/>
<line x1="304.50" y1="233.50" x2="331.00" y2="233.50" stroke="#231F20" stroke-width="0.90"/>
<path d="M312.35 227.85L312.35 229.95M311.44 228.37L313.26 229.42M311.44 229.42L313.26 228.37" stroke="#231F20" stroke-width="0.75" stroke-linecap="round"/>
<path d="M315.95 227.85L315.95 229.95M315.04 228.37L316.86 229.42M315.04 229.42L316.86 228.37" stroke="#231F20" stroke-width="0.75" stroke-linecap="round"/>
<path d="M319.55 227.85L319.55 229.95M318.64 228.37L320.46 229.42M318.64 229.42L320.46 228.37" stroke="#231F20" stroke-width="0.75" stroke-linecap="round"/>
<path d="M323.15 227.85L323.15 229.95M322.24 228.37L324.06 229.42M322.24 229.42L324.06 228.37" stroke="#231F20" stroke-width="0.75" stroke-linecap="round"/>
<line x1="353.80" y1="269.50" x2="401.80" y2="269.50" stroke="#231F20" stroke-width="0.90"/>
<text x="377.80" y="267.60" font-size="7.60" fill="#2b2b2b" text-anchor="middle">ns</text>
<line x1="404.50" y1="269.50" x2="428.40" y2="269.50" stroke="#231F20" stroke-width="0.90"/>
<text x="416.45" y="267.60" font-size="7.60" fill="#2b2b2b" text-anchor="middle">ns</text>
<text x="118.90" y="311.40" font-size="7.60" fill="#2b2b2b" style="font-style:italic" textLength="16.10" lengthAdjust="spacingAndGlyphs">Hbb</text>
<text x="120.60" y="320.80" font-size="7.60" fill="#2b2b2b" style="font-style:italic" textLength="13.70" lengthAdjust="spacingAndGlyphs">miR</text>
<text x="153.60" y="311.40" font-size="7.60" fill="#2b2b2b" text-anchor="middle" style="font-style:italic" textLength="12.60" lengthAdjust="spacingAndGlyphs">+/+</text>
<text x="153.60" y="320.80" font-size="7.60" fill="#2b2b2b" text-anchor="middle" style="font-style:italic" textLength="12.60" lengthAdjust="spacingAndGlyphs">+/+</text>
<text x="178.60" y="311.40" font-size="7.60" fill="#2b2b2b" text-anchor="middle" style="font-style:italic" textLength="12.60" lengthAdjust="spacingAndGlyphs">+/+</text>
<text x="178.60" y="320.80" font-size="7.60" fill="#2b2b2b" text-anchor="middle" style="font-style:italic" textLength="10.50" lengthAdjust="spacingAndGlyphs">–/–</text>
<text x="203.60" y="311.40" font-size="7.60" fill="#2b2b2b" text-anchor="middle" style="font-style:italic" textLength="19.00" lengthAdjust="spacingAndGlyphs">th3/+</text>
<text x="203.60" y="320.80" font-size="7.60" fill="#2b2b2b" text-anchor="middle" style="font-style:italic" textLength="12.60" lengthAdjust="spacingAndGlyphs">+/+</text>
<text x="228.60" y="311.40" font-size="7.60" fill="#2b2b2b" text-anchor="middle" style="font-style:italic" textLength="19.00" lengthAdjust="spacingAndGlyphs">th3/+</text>
<text x="228.60" y="320.80" font-size="7.60" fill="#2b2b2b" text-anchor="middle" style="font-style:italic" textLength="10.50" lengthAdjust="spacingAndGlyphs">–/–</text>
<line x1="145.10" y1="324.50" x2="240.50" y2="324.50" stroke="#231F20" stroke-width="0.90"/>
<text x="192.30" y="335.20" font-size="7.80" fill="#2b2b2b" text-anchor="middle" textLength="19.50" lengthAdjust="spacingAndGlyphs">Ery.A</text>
<text x="253.60" y="311.40" font-size="7.60" fill="#2b2b2b" text-anchor="middle" style="font-style:italic" textLength="12.60" lengthAdjust="spacingAndGlyphs">+/+</text>
<text x="253.60" y="320.80" font-size="7.60" fill="#2b2b2b" text-anchor="middle" style="font-style:italic" textLength="12.60" lengthAdjust="spacingAndGlyphs">+/+</text>
<text x="278.60" y="311.40" font-size="7.60" fill="#2b2b2b" text-anchor="middle" style="font-style:italic" textLength="12.60" lengthAdjust="spacingAndGlyphs">+/+</text>
<text x="278.60" y="320.80" font-size="7.60" fill="#2b2b2b" text-anchor="middle" style="font-style:italic" textLength="10.50" lengthAdjust="spacingAndGlyphs">–/–</text>
<text x="303.60" y="311.40" font-size="7.60" fill="#2b2b2b" text-anchor="middle" style="font-style:italic" textLength="19.00" lengthAdjust="spacingAndGlyphs">th3/+</text>
<text x="303.60" y="320.80" font-size="7.60" fill="#2b2b2b" text-anchor="middle" style="font-style:italic" textLength="12.60" lengthAdjust="spacingAndGlyphs">+/+</text>
<text x="328.60" y="311.40" font-size="7.60" fill="#2b2b2b" text-anchor="middle" style="font-style:italic" textLength="19.00" lengthAdjust="spacingAndGlyphs">th3/+</text>
<text x="328.60" y="320.80" font-size="7.60" fill="#2b2b2b" text-anchor="middle" style="font-style:italic" textLength="10.50" lengthAdjust="spacingAndGlyphs">–/–</text>
<line x1="245.10" y1="324.50" x2="340.50" y2="324.50" stroke="#231F20" stroke-width="0.90"/>
<text x="292.30" y="335.20" font-size="7.80" fill="#2b2b2b" text-anchor="middle" textLength="19.50" lengthAdjust="spacingAndGlyphs">Ery.B</text>
<text x="353.60" y="311.40" font-size="7.60" fill="#2b2b2b" text-anchor="middle" style="font-style:italic" textLength="12.60" lengthAdjust="spacingAndGlyphs">+/+</text>
<text x="353.60" y="320.80" font-size="7.60" fill="#2b2b2b" text-anchor="middle" style="font-style:italic" textLength="12.60" lengthAdjust="spacingAndGlyphs">+/+</text>
<text x="378.60" y="311.40" font-size="7.60" fill="#2b2b2b" text-anchor="middle" style="font-style:italic" textLength="12.60" lengthAdjust="spacingAndGlyphs">+/+</text>
<text x="378.60" y="320.80" font-size="7.60" fill="#2b2b2b" text-anchor="middle" style="font-style:italic" textLength="10.50" lengthAdjust="spacingAndGlyphs">–/–</text>
<text x="403.60" y="311.40" font-size="7.60" fill="#2b2b2b" text-anchor="middle" style="font-style:italic" textLength="19.00" lengthAdjust="spacingAndGlyphs">th3/+</text>
<text x="403.60" y="320.80" font-size="7.60" fill="#2b2b2b" text-anchor="middle" style="font-style:italic" textLength="12.60" lengthAdjust="spacingAndGlyphs">+/+</text>
<text x="428.60" y="311.40" font-size="7.60" fill="#2b2b2b" text-anchor="middle" style="font-style:italic" textLength="19.00" lengthAdjust="spacingAndGlyphs">th3/+</text>
<text x="428.60" y="320.80" font-size="7.60" fill="#2b2b2b" text-anchor="middle" style="font-style:italic" textLength="10.50" lengthAdjust="spacingAndGlyphs">–/–</text>
<line x1="345.10" y1="324.50" x2="440.50" y2="324.50" stroke="#231F20" stroke-width="0.90"/>
<text x="392.30" y="335.20" font-size="7.80" fill="#2b2b2b" text-anchor="middle" textLength="19.50" lengthAdjust="spacingAndGlyphs">Ery.C</text>
<line x1="153.50" y1="271.00" x2="153.50" y2="289.00" stroke="#231F20" stroke-width="0.90"/>
<line x1="151.60" y1="271.50" x2="155.40" y2="271.50" stroke="#231F20" stroke-width="0.90"/>
<line x1="151.60" y1="289.50" x2="155.40" y2="289.50" stroke="#231F20" stroke-width="0.90"/>
<line x1="178.50" y1="276.00" x2="178.50" y2="289.50" stroke="#231F20" stroke-width="0.90"/>
<line x1="177.00" y1="276.50" x2="180.80" y2="276.50" stroke="#231F20" stroke-width="0.90"/>
<line x1="177.00" y1="289.50" x2="180.80" y2="289.50" stroke="#231F20" stroke-width="0.90"/>
<line x1="203.50" y1="236.50" x2="203.50" y2="245.00" stroke="#231F20" stroke-width="0.90"/>
<line x1="201.70" y1="236.50" x2="205.50" y2="236.50" stroke="#231F20" stroke-width="0.90"/>
<line x1="201.70" y1="245.50" x2="205.50" y2="245.50" stroke="#231F20" stroke-width="0.90"/>
<line x1="228.50" y1="252.70" x2="228.50" y2="271.60" stroke="#231F20" stroke-width="0.90"/>
<line x1="226.80" y1="252.50" x2="230.60" y2="252.50" stroke="#231F20" stroke-width="0.90"/>
<line x1="226.80" y1="271.50" x2="230.60" y2="271.50" stroke="#231F20" stroke-width="0.90"/>
<line x1="253.50" y1="266.00" x2="253.50" y2="287.50" stroke="#231F20" stroke-width="0.90"/>
<line x1="251.60" y1="266.50" x2="255.40" y2="266.50" stroke="#231F20" stroke-width="0.90"/>
<line x1="251.60" y1="287.50" x2="255.40" y2="287.50" stroke="#231F20" stroke-width="0.90"/>
<line x1="278.50" y1="279.40" x2="278.50" y2="292.10" stroke="#231F20" stroke-width="0.90"/>
<line x1="276.70" y1="279.50" x2="280.50" y2="279.50" stroke="#231F20" stroke-width="0.90"/>
<line x1="276.70" y1="292.50" x2="280.50" y2="292.50" stroke="#231F20" stroke-width="0.90"/>
<line x1="303.50" y1="242.00" x2="303.50" y2="250.00" stroke="#231F20" stroke-width="0.90"/>
<line x1="301.70" y1="242.50" x2="305.50" y2="242.50" stroke="#231F20" stroke-width="0.90"/>
<line x1="301.70" y1="250.50" x2="305.50" y2="250.50" stroke="#231F20" stroke-width="0.90"/>
<line x1="328.50" y1="257.80" x2="328.50" y2="272.20" stroke="#231F20" stroke-width="0.90"/>
<line x1="326.70" y1="257.50" x2="330.50" y2="257.50" stroke="#231F20" stroke-width="0.90"/>
<line x1="326.70" y1="272.50" x2="330.50" y2="272.50" stroke="#231F20" stroke-width="0.90"/>
<line x1="353.50" y1="278.00" x2="353.50" y2="289.00" stroke="#231F20" stroke-width="0.90"/>
<line x1="351.60" y1="278.50" x2="355.40" y2="278.50" stroke="#231F20" stroke-width="0.90"/>
<line x1="351.60" y1="289.50" x2="355.40" y2="289.50" stroke="#231F20" stroke-width="0.90"/>
<line x1="378.50" y1="284.00" x2="378.50" y2="291.00" stroke="#231F20" stroke-width="0.90"/>
<line x1="376.70" y1="284.50" x2="380.50" y2="284.50" stroke="#231F20" stroke-width="0.90"/>
<line x1="376.70" y1="291.50" x2="380.50" y2="291.50" stroke="#231F20" stroke-width="0.90"/>
<line x1="403.50" y1="279.00" x2="403.50" y2="289.00" stroke="#231F20" stroke-width="0.90"/>
<line x1="401.70" y1="279.50" x2="405.50" y2="279.50" stroke="#231F20" stroke-width="0.90"/>
<line x1="401.70" y1="289.50" x2="405.50" y2="289.50" stroke="#231F20" stroke-width="0.90"/>
<line x1="428.50" y1="282.30" x2="428.50" y2="294.40" stroke="#231F20" stroke-width="0.90"/>
<line x1="426.70" y1="282.50" x2="430.50" y2="282.50" stroke="#231F20" stroke-width="0.90"/>
<line x1="426.70" y1="294.50" x2="430.50" y2="294.50" stroke="#231F20" stroke-width="0.90"/>
<path d="M153.50 263.00L155.50 265.00L153.50 267.00L151.50 265.00Z" fill="#fff" stroke="#231F20" stroke-width="0.70"/>
<path d="M151.90 271.50L153.90 273.50L151.90 275.50L149.90 273.50Z" fill="#fff" stroke="#231F20" stroke-width="0.70"/>
<path d="M155.30 270.80L157.30 272.80L155.30 274.80L153.30 272.80Z" fill="#fff" stroke="#231F20" stroke-width="0.70"/>
<circle cx="146.90" cy="278.60" r="1.60" fill="#fff" stroke="#231F20" stroke-width="0.70"/>
<circle cx="153.50" cy="278.60" r="1.60" fill="#fff" stroke="#231F20" stroke-width="0.70"/>
<circle cx="157.10" cy="278.60" r="1.60" fill="#fff" stroke="#231F20" stroke-width="0.70"/>
<circle cx="160.60" cy="278.60" r="1.60" fill="#fff" stroke="#231F20" stroke-width="0.70"/>
<circle cx="150.60" cy="281.70" r="1.60" fill="#fff" stroke="#231F20" stroke-width="0.70"/>
<circle cx="153.50" cy="281.70" r="1.60" fill="#fff" stroke="#231F20" stroke-width="0.70"/>
<circle cx="156.90" cy="281.70" r="1.60" fill="#fff" stroke="#231F20" stroke-width="0.70"/>
<circle cx="153.50" cy="287.90" r="1.60" fill="#fff" stroke="#231F20" stroke-width="0.70"/>
<path d="M172.50 274.00L174.50 276.00L172.50 278.00L170.50 276.00Z" fill="#fff" stroke="#231F20" stroke-width="0.70"/>
<path d="M176.30 273.50L178.30 275.50L176.30 277.50L174.30 275.50Z" fill="#fff" stroke="#231F20" stroke-width="0.70"/>
<path d="M179.80 275.00L181.80 277.00L179.80 279.00L177.80 277.00Z" fill="#fff" stroke="#231F20" stroke-width="0.70"/>
<circle cx="172.50" cy="281.00" r="1.60" fill="#fff" stroke="#231F20" stroke-width="0.70"/>
<circle cx="176.50" cy="281.80" r="1.60" fill="#fff" stroke="#231F20" stroke-width="0.70"/>
<circle cx="181.00" cy="281.00" r="1.60" fill="#fff" stroke="#231F20" stroke-width="0.70"/>
<circle cx="185.00" cy="280.00" r="1.60" fill="#fff" stroke="#231F20" stroke-width="0.70"/>
<circle cx="177.00" cy="289.70" r="1.60" fill="#fff" stroke="#231F20" stroke-width="0.70"/>
<circle cx="180.70" cy="289.70" r="1.60" fill="#fff" stroke="#231F20" stroke-width="0.70"/>
<path d="M203.50 226.20L205.50 228.20L203.50 230.20L201.50 228.20Z" fill="#fff" stroke="#231F20" stroke-width="0.70"/>
<path d="M199.00 235.50L201.00 237.50L199.00 239.50L197.00 237.50Z" fill="#fff" stroke="#231F20" stroke-width="0.70"/>
<path d="M202.50 233.50L204.50 235.50L202.50 237.50L200.50 235.50Z" fill="#fff" stroke="#231F20" stroke-width="0.70"/>
<path d="M205.50 235.00L207.50 237.00L205.50 239.00L203.50 237.00Z" fill="#fff" stroke="#231F20" stroke-width="0.70"/>
<path d="M209.80 236.00L211.80 238.00L209.80 240.00L207.80 238.00Z" fill="#fff" stroke="#231F20" stroke-width="0.70"/>
<circle cx="197.60" cy="240.80" r="1.60" fill="#fff" stroke="#231F20" stroke-width="0.70"/>
<circle cx="201.50" cy="240.50" r="1.60" fill="#fff" stroke="#231F20" stroke-width="0.70"/>
<circle cx="207.00" cy="240.80" r="1.60" fill="#fff" stroke="#231F20" stroke-width="0.70"/>
<circle cx="200.00" cy="242.80" r="1.60" fill="#fff" stroke="#231F20" stroke-width="0.70"/>
<circle cx="205.00" cy="243.00" r="1.60" fill="#fff" stroke="#231F20" stroke-width="0.70"/>
<circle cx="202.50" cy="244.80" r="1.60" fill="#fff" stroke="#231F20" stroke-width="0.70"/>
<circle cx="209.80" cy="244.00" r="1.60" fill="#fff" stroke="#231F20" stroke-width="0.70"/>
<circle cx="197.50" cy="246.60" r="1.60" fill="#fff" stroke="#231F20" stroke-width="0.70"/>
<circle cx="207.50" cy="246.60" r="1.60" fill="#fff" stroke="#231F20" stroke-width="0.70"/>
<path d="M222.50 252.00L224.50 254.00L222.50 256.00L220.50 254.00Z" fill="#fff" stroke="#231F20" stroke-width="0.70"/>
<path d="M234.80 251.80L236.80 253.80L234.80 255.80L232.80 253.80Z" fill="#fff" stroke="#231F20" stroke-width="0.70"/>
<circle cx="222.50" cy="271.00" r="1.60" fill="#fff" stroke="#231F20" stroke-width="0.70"/>
<circle cx="234.80" cy="269.60" r="1.60" fill="#fff" stroke="#231F20" stroke-width="0.70"/>
<path d="M253.50 256.80L255.50 258.80L253.50 260.80L251.50 258.80Z" fill="#fff" stroke="#231F20" stroke-width="0.70"/>
<path d="M253.50 264.00L255.50 266.00L253.50 268.00L251.50 266.00Z" fill="#fff" stroke="#231F20" stroke-width="0.70"/>
<path d="M253.50 269.50L255.50 271.50L253.50 273.50L251.50 271.50Z" fill="#fff" stroke="#231F20" stroke-width="0.70"/>
<path d="M253.50 273.70L255.50 275.70L253.50 277.70L251.50 275.70Z" fill="#fff" stroke="#231F20" stroke-width="0.70"/>
<path d="M253.50 277.40L255.50 279.40L253.50 281.40L251.50 279.40Z" fill="#fff" stroke="#231F20" stroke-width="0.70"/>
<path d="M253.50 283.20L255.50 285.20L253.50 287.20L251.50 285.20Z" fill="#fff" stroke="#231F20" stroke-width="0.70"/>
<path d="M253.50 287.70L255.50 289.70L253.50 291.70L251.50 289.70Z" fill="#fff" stroke="#231F20" stroke-width="0.70"/>
<circle cx="247.00" cy="276.00" r="1.60" fill="#fff" stroke="#231F20" stroke-width="0.70"/>
<circle cx="247.00" cy="282.60" r="1.60" fill="#fff" stroke="#231F20" stroke-width="0.70"/>
<circle cx="260.50" cy="278.80" r="1.60" fill="#fff" stroke="#231F20" stroke-width="0.70"/>
<circle cx="260.50" cy="282.80" r="1.60" fill="#fff" stroke="#231F20" stroke-width="0.70"/>
<path d="M272.50 279.70L274.50 281.70L272.50 283.70L270.50 281.70Z" fill="#fff" stroke="#231F20" stroke-width="0.70"/>
<path d="M276.50 276.00L278.50 278.00L276.50 280.00L274.50 278.00Z" fill="#fff" stroke="#231F20" stroke-width="0.70"/>
<path d="M280.50 279.50L282.50 281.50L280.50 283.50L278.50 281.50Z" fill="#fff" stroke="#231F20" stroke-width="0.70"/>
<path d="M284.50 278.00L286.50 280.00L284.50 282.00L282.50 280.00Z" fill="#fff" stroke="#231F20" stroke-width="0.70"/>
<circle cx="272.50" cy="291.60" r="1.60" fill="#fff" stroke="#231F20" stroke-width="0.70"/>
<circle cx="276.50" cy="290.00" r="1.60" fill="#fff" stroke="#231F20" stroke-width="0.70"/>
<circle cx="280.50" cy="291.50" r="1.60" fill="#fff" stroke="#231F20" stroke-width="0.70"/>
<circle cx="284.50" cy="291.50" r="1.60" fill="#fff" stroke="#231F20" stroke-width="0.70"/>
<path d="M303.50 236.50L305.50 238.50L303.50 240.50L301.50 238.50Z" fill="#fff" stroke="#231F20" stroke-width="0.70"/>
<path d="M301.00 240.00L303.00 242.00L301.00 244.00L299.00 242.00Z" fill="#fff" stroke="#231F20" stroke-width="0.70"/>
<path d="M306.00 240.00L308.00 242.00L306.00 244.00L304.00 242.00Z" fill="#fff" stroke="#231F20" stroke-width="0.70"/>
<path d="M297.20 242.50L299.20 244.50L297.20 246.50L295.20 244.50Z" fill="#fff" stroke="#231F20" stroke-width="0.70"/>
<path d="M300.50 242.50L302.50 244.50L300.50 246.50L298.50 244.50Z" fill="#fff" stroke="#231F20" stroke-width="0.70"/>
<path d="M303.50 242.50L305.50 244.50L303.50 246.50L301.50 244.50Z" fill="#fff" stroke="#231F20" stroke-width="0.70"/>
<path d="M306.60 242.50L308.60 244.50L306.60 246.50L304.60 244.50Z" fill="#fff" stroke="#231F20" stroke-width="0.70"/>
<path d="M309.60 242.50L311.60 244.50L309.60 246.50L307.60 244.50Z" fill="#fff" stroke="#231F20" stroke-width="0.70"/>
<circle cx="300.30" cy="248.50" r="1.60" fill="#fff" stroke="#231F20" stroke-width="0.70"/>
<circle cx="303.30" cy="248.50" r="1.60" fill="#fff" stroke="#231F20" stroke-width="0.70"/>
<circle cx="306.60" cy="248.50" r="1.60" fill="#fff" stroke="#231F20" stroke-width="0.70"/>
<circle cx="297.20" cy="251.30" r="1.60" fill="#fff" stroke="#231F20" stroke-width="0.70"/>
<circle cx="309.50" cy="253.50" r="1.60" fill="#fff" stroke="#231F20" stroke-width="0.70"/>
<path d="M322.50 257.50L324.50 259.50L322.50 261.50L320.50 259.50Z" fill="#fff" stroke="#231F20" stroke-width="0.70"/>
<path d="M334.50 255.80L336.50 257.80L334.50 259.80L332.50 257.80Z" fill="#fff" stroke="#231F20" stroke-width="0.70"/>
<circle cx="322.50" cy="272.30" r="1.60" fill="#fff" stroke="#231F20" stroke-width="0.70"/>
<circle cx="334.50" cy="271.00" r="1.60" fill="#fff" stroke="#231F20" stroke-width="0.70"/>
<path d="M353.30 272.80L355.30 274.80L353.30 276.80L351.30 274.80Z" fill="#fff" stroke="#231F20" stroke-width="0.70"/>
<circle cx="349.50" cy="279.50" r="1.60" fill="#fff" stroke="#231F20" stroke-width="0.70"/>
<circle cx="353.30" cy="279.50" r="1.60" fill="#fff" stroke="#231F20" stroke-width="0.70"/>
<circle cx="357.00" cy="279.50" r="1.60" fill="#fff" stroke="#231F20" stroke-width="0.70"/>
<circle cx="346.50" cy="280.70" r="1.60" fill="#fff" stroke="#231F20" stroke-width="0.70"/>
<circle cx="359.80" cy="280.70" r="1.60" fill="#fff" stroke="#231F20" stroke-width="0.70"/>
<circle cx="350.50" cy="283.50" r="1.60" fill="#fff" stroke="#231F20" stroke-width="0.70"/>
<circle cx="353.80" cy="283.50" r="1.60" fill="#fff" stroke="#231F20" stroke-width="0.70"/>
<circle cx="357.50" cy="283.50" r="1.60" fill="#fff" stroke="#231F20" stroke-width="0.70"/>
<circle cx="360.00" cy="283.50" r="1.60" fill="#fff" stroke="#231F20" stroke-width="0.70"/>
<circle cx="350.00" cy="286.00" r="1.60" fill="#fff" stroke="#231F20" stroke-width="0.70"/>
<circle cx="356.50" cy="286.00" r="1.60" fill="#fff" stroke="#231F20" stroke-width="0.70"/>
<circle cx="350.00" cy="289.20" r="1.60" fill="#fff" stroke="#231F20" stroke-width="0.70"/>
<path d="M378.50 278.90L380.50 280.90L378.50 282.90L376.50 280.90Z" fill="#fff" stroke="#231F20" stroke-width="0.70"/>
<circle cx="374.50" cy="285.00" r="1.60" fill="#fff" stroke="#231F20" stroke-width="0.70"/>
<circle cx="378.50" cy="285.00" r="1.60" fill="#fff" stroke="#231F20" stroke-width="0.70"/>
<circle cx="382.30" cy="285.00" r="1.60" fill="#fff" stroke="#231F20" stroke-width="0.70"/>
<circle cx="372.00" cy="288.00" r="1.60" fill="#fff" stroke="#231F20" stroke-width="0.70"/>
<circle cx="376.50" cy="288.00" r="1.60" fill="#fff" stroke="#231F20" stroke-width="0.70"/>
<circle cx="380.50" cy="288.00" r="1.60" fill="#fff" stroke="#231F20" stroke-width="0.70"/>
<circle cx="384.50" cy="288.00" r="1.60" fill="#fff" stroke="#231F20" stroke-width="0.70"/>
<circle cx="378.30" cy="291.00" r="1.60" fill="#fff" stroke="#231F20" stroke-width="0.70"/>
<circle cx="382.00" cy="291.00" r="1.60" fill="#fff" stroke="#231F20" stroke-width="0.70"/>
<circle cx="401.20" cy="276.50" r="1.60" fill="#fff" stroke="#231F20" stroke-width="0.70"/>
<circle cx="405.00" cy="276.00" r="1.60" fill="#fff" stroke="#231F20" stroke-width="0.70"/>
<path d="M399.50 277.80L401.50 279.80L399.50 281.80L397.50 279.80Z" fill="#fff" stroke="#231F20" stroke-width="0.70"/>
<path d="M403.50 277.00L405.50 279.00L403.50 281.00L401.50 279.00Z" fill="#fff" stroke="#231F20" stroke-width="0.70"/>
<path d="M407.50 278.50L409.50 280.50L407.50 282.50L405.50 280.50Z" fill="#fff" stroke="#231F20" stroke-width="0.70"/>
<path d="M410.00 278.50L412.00 280.50L410.00 282.50L408.00 280.50Z" fill="#fff" stroke="#231F20" stroke-width="0.70"/>
<circle cx="397.20" cy="283.00" r="1.60" fill="#fff" stroke="#231F20" stroke-width="0.70"/>
<circle cx="400.80" cy="283.00" r="1.60" fill="#fff" stroke="#231F20" stroke-width="0.70"/>
<circle cx="404.50" cy="283.00" r="1.60" fill="#fff" stroke="#231F20" stroke-width="0.70"/>
<circle cx="407.70" cy="283.00" r="1.60" fill="#fff" stroke="#231F20" stroke-width="0.70"/>
<circle cx="410.00" cy="283.00" r="1.60" fill="#fff" stroke="#231F20" stroke-width="0.70"/>
<circle cx="399.50" cy="289.30" r="1.60" fill="#fff" stroke="#231F20" stroke-width="0.70"/>
<circle cx="402.80" cy="289.30" r="1.60" fill="#fff" stroke="#231F20" stroke-width="0.70"/>
<circle cx="406.00" cy="289.30" r="1.60" fill="#fff" stroke="#231F20" stroke-width="0.70"/>
<circle cx="409.30" cy="289.30" r="1.60" fill="#fff" stroke="#231F20" stroke-width="0.70"/>
<path d="M422.30 283.20L424.30 285.20L422.30 287.20L420.30 285.20Z" fill="#fff" stroke="#231F20" stroke-width="0.70"/>
<path d="M434.50 279.00L436.50 281.00L434.50 283.00L432.50 281.00Z" fill="#fff" stroke="#231F20" stroke-width="0.70"/>
<circle cx="422.30" cy="293.80" r="1.60" fill="#fff" stroke="#231F20" stroke-width="0.70"/>
<circle cx="434.50" cy="293.00" r="1.60" fill="#fff" stroke="#231F20" stroke-width="0.70"/>
<text x="107.80" y="361.90" font-size="11.00" fill="#111" style="font-weight:bold" textLength="7.40" lengthAdjust="spacingAndGlyphs">E</text>
<rect x="178.75" y="425.54" width="17.80" height="34.96" fill="#E0B51C"/>
<rect x="204.60" y="402.82" width="17.80" height="57.68" fill="#25366C"/>
<rect x="230.45" y="415.63" width="17.80" height="44.87" fill="#5E96D6"/>
<rect x="256.30" y="448.85" width="17.80" height="11.65" fill="#E0B51C"/>
<rect x="282.15" y="444.19" width="17.80" height="16.31" fill="#25366C"/>
<rect x="308.00" y="449.43" width="17.80" height="11.07" fill="#5E96D6"/>
<rect x="333.85" y="450.59" width="17.80" height="9.91" fill="#E0B51C"/>
<rect x="359.70" y="450.01" width="17.80" height="10.49" fill="#25366C"/>
<rect x="385.55" y="453.51" width="17.80" height="6.99" fill="#5E96D6"/>
<line x1="170.50" y1="370.60" x2="170.50" y2="461.00" stroke="#231F20" stroke-width="1.00"/>
<line x1="167.80" y1="460.50" x2="170.40" y2="460.50" stroke="#231F20" stroke-width="1.00"/>
<text x="151.19" y="463.85" font-size="9.30" fill="#2b2b2b" textLength="13.41" lengthAdjust="spacingAndGlyphs">0.0</text>
<line x1="167.80" y1="431.50" x2="170.40" y2="431.50" stroke="#231F20" stroke-width="1.00"/>
<text x="151.19" y="434.71" font-size="9.30" fill="#2b2b2b" textLength="13.41" lengthAdjust="spacingAndGlyphs">0.5</text>
<line x1="167.80" y1="402.50" x2="170.40" y2="402.50" stroke="#231F20" stroke-width="1.00"/>
<text x="151.19" y="405.58" font-size="9.30" fill="#2b2b2b" textLength="13.41" lengthAdjust="spacingAndGlyphs">1.0</text>
<line x1="167.80" y1="373.50" x2="170.40" y2="373.50" stroke="#231F20" stroke-width="1.00"/>
<text x="151.19" y="376.45" font-size="9.30" fill="#2b2b2b" textLength="13.41" lengthAdjust="spacingAndGlyphs">1.5</text>
<line x1="170.40" y1="460.50" x2="412.00" y2="460.50" stroke="#231F20" stroke-width="1.00"/>
<line x1="187.50" y1="460.50" x2="187.50" y2="462.70" stroke="#231F20" stroke-width="1.00"/>
<line x1="213.50" y1="460.50" x2="213.50" y2="462.70" stroke="#231F20" stroke-width="1.00"/>
<line x1="239.50" y1="460.50" x2="239.50" y2="462.70" stroke="#231F20" stroke-width="1.00"/>
<line x1="265.50" y1="460.50" x2="265.50" y2="462.70" stroke="#231F20" stroke-width="1.00"/>
<line x1="291.50" y1="460.50" x2="291.50" y2="462.70" stroke="#231F20" stroke-width="1.00"/>
<line x1="316.50" y1="460.50" x2="316.50" y2="462.70" stroke="#231F20" stroke-width="1.00"/>
<line x1="342.50" y1="460.50" x2="342.50" y2="462.70" stroke="#231F20" stroke-width="1.00"/>
<line x1="368.50" y1="460.50" x2="368.50" y2="462.70" stroke="#231F20" stroke-width="1.00"/>
<line x1="394.50" y1="460.50" x2="394.50" y2="462.70" stroke="#231F20" stroke-width="1.00"/>
<text transform="translate(145.00 416.00) rotate(-90)" x="0" y="0" font-size="8.60" fill="#2b2b2b" text-anchor="middle" textLength="72.30" lengthAdjust="spacingAndGlyphs">Protein synthesis rate</text>
<line x1="186.70" y1="381.50" x2="212.50" y2="381.50" stroke="#231F20" stroke-width="0.90"/>
<path d="M199.60 375.05L199.60 377.15M198.69 375.58L200.51 376.62M198.69 376.62L200.51 375.58" stroke="#231F20" stroke-width="0.75" stroke-linecap="round"/>
<line x1="214.80" y1="381.50" x2="239.40" y2="381.50" stroke="#231F20" stroke-width="0.90"/>
<text x="227.10" y="378.60" font-size="8.80" fill="#2b2b2b" text-anchor="middle">ns</text>
<line x1="264.70" y1="434.50" x2="290.20" y2="434.50" stroke="#231F20" stroke-width="0.90"/>
<text x="277.45" y="431.70" font-size="8.80" fill="#2b2b2b" text-anchor="middle">ns</text>
<line x1="292.50" y1="434.50" x2="318.00" y2="434.50" stroke="#231F20" stroke-width="0.90"/>
<path d="M305.25 428.25L305.25 430.35M304.34 428.78L306.16 429.82M304.34 429.82L306.16 428.78" stroke="#231F20" stroke-width="0.75" stroke-linecap="round"/>
<line x1="342.70" y1="439.50" x2="367.50" y2="439.50" stroke="#231F20" stroke-width="0.90"/>
<text x="355.10" y="437.10" font-size="8.80" fill="#2b2b2b" text-anchor="middle">ns</text>
<line x1="369.70" y1="439.50" x2="394.80" y2="439.50" stroke="#231F20" stroke-width="0.90"/>
<text x="382.25" y="437.10" font-size="8.80" fill="#2b2b2b" text-anchor="middle">ns</text>
<text x="155.30" y="473.80" font-size="7.80" fill="#2b2b2b" style="font-style:italic" textLength="14.80" lengthAdjust="spacingAndGlyphs">Hbb</text>
<text x="157.40" y="482.80" font-size="7.80" fill="#2b2b2b" style="font-style:italic" textLength="12.70" lengthAdjust="spacingAndGlyphs">miR</text>
<text x="187.65" y="473.80" font-size="7.80" fill="#2b2b2b" text-anchor="middle" style="font-style:italic" textLength="12.80" lengthAdjust="spacingAndGlyphs">+/+</text>
<text x="187.65" y="482.80" font-size="7.80" fill="#2b2b2b" text-anchor="middle" style="font-style:italic" textLength="12.80" lengthAdjust="spacingAndGlyphs">+/+</text>
<text x="213.50" y="473.80" font-size="7.80" fill="#2b2b2b" text-anchor="middle" style="font-style:italic" textLength="20.00" lengthAdjust="spacingAndGlyphs">th3/+</text>
<text x="213.50" y="482.80" font-size="7.80" fill="#2b2b2b" text-anchor="middle" style="font-style:italic" textLength="12.80" lengthAdjust="spacingAndGlyphs">+/+</text>
<text x="239.35" y="473.80" font-size="7.80" fill="#2b2b2b" text-anchor="middle" style="font-style:italic" textLength="19.00" lengthAdjust="spacingAndGlyphs">th3/+</text>
<text x="239.35" y="482.80" font-size="7.80" fill="#2b2b2b" text-anchor="middle" style="font-style:italic" textLength="11.00" lengthAdjust="spacingAndGlyphs">–/–</text>
<line x1="179.55" y1="485.50" x2="247.75" y2="485.50" stroke="#231F20" stroke-width="0.90"/>
<text x="213.65" y="494.90" font-size="8.00" fill="#2b2b2b" text-anchor="middle" textLength="19.20" lengthAdjust="spacingAndGlyphs">Ery.A</text>
<text x="265.20" y="473.80" font-size="7.80" fill="#2b2b2b" text-anchor="middle" style="font-style:italic" textLength="12.80" lengthAdjust="spacingAndGlyphs">+/+</text>
<text x="265.20" y="482.80" font-size="7.80" fill="#2b2b2b" text-anchor="middle" style="font-style:italic" textLength="12.80" lengthAdjust="spacingAndGlyphs">+/+</text>
<text x="291.05" y="473.80" font-size="7.80" fill="#2b2b2b" text-anchor="middle" style="font-style:italic" textLength="20.00" lengthAdjust="spacingAndGlyphs">th3/+</text>
<text x="291.05" y="482.80" font-size="7.80" fill="#2b2b2b" text-anchor="middle" style="font-style:italic" textLength="12.80" lengthAdjust="spacingAndGlyphs">+/+</text>
<text x="316.90" y="473.80" font-size="7.80" fill="#2b2b2b" text-anchor="middle" style="font-style:italic" textLength="19.00" lengthAdjust="spacingAndGlyphs">th3/+</text>
<text x="316.90" y="482.80" font-size="7.80" fill="#2b2b2b" text-anchor="middle" style="font-style:italic" textLength="11.00" lengthAdjust="spacingAndGlyphs">–/–</text>
<line x1="257.10" y1="485.50" x2="325.30" y2="485.50" stroke="#231F20" stroke-width="0.90"/>
<text x="291.20" y="494.90" font-size="8.00" fill="#2b2b2b" text-anchor="middle" textLength="19.20" lengthAdjust="spacingAndGlyphs">Ery.B</text>
<text x="342.75" y="473.80" font-size="7.80" fill="#2b2b2b" text-anchor="middle" style="font-style:italic" textLength="12.80" lengthAdjust="spacingAndGlyphs">+/+</text>
<text x="342.75" y="482.80" font-size="7.80" fill="#2b2b2b" text-anchor="middle" style="font-style:italic" textLength="12.80" lengthAdjust="spacingAndGlyphs">+/+</text>
<text x="368.60" y="473.80" font-size="7.80" fill="#2b2b2b" text-anchor="middle" style="font-style:italic" textLength="20.00" lengthAdjust="spacingAndGlyphs">th3/+</text>
<text x="368.60" y="482.80" font-size="7.80" fill="#2b2b2b" text-anchor="middle" style="font-style:italic" textLength="12.80" lengthAdjust="spacingAndGlyphs">+/+</text>
<text x="394.45" y="473.80" font-size="7.80" fill="#2b2b2b" text-anchor="middle" style="font-style:italic" textLength="19.00" lengthAdjust="spacingAndGlyphs">th3/+</text>
<text x="394.45" y="482.80" font-size="7.80" fill="#2b2b2b" text-anchor="middle" style="font-style:italic" textLength="11.00" lengthAdjust="spacingAndGlyphs">–/–</text>
<line x1="334.65" y1="485.50" x2="402.85" y2="485.50" stroke="#231F20" stroke-width="0.90"/>
<text x="368.75" y="494.90" font-size="8.00" fill="#2b2b2b" text-anchor="middle" textLength="19.20" lengthAdjust="spacingAndGlyphs">Ery.C</text>
<line x1="187.50" y1="406.00" x2="187.50" y2="443.50" stroke="#231F20" stroke-width="0.90"/>
<line x1="185.50" y1="406.50" x2="189.50" y2="406.50" stroke="#231F20" stroke-width="0.90"/>
<line x1="185.50" y1="443.50" x2="189.50" y2="443.50" stroke="#231F20" stroke-width="0.90"/>
<path d="M187.50 403.70L189.60 405.80L187.50 407.90L185.40 405.80Z" fill="#fff" stroke="#231F20" stroke-width="0.70"/>
<path d="M187.50 415.60L189.60 417.70L187.50 419.80L185.40 417.70Z" fill="#fff" stroke="#231F20" stroke-width="0.70"/>
<path d="M187.50 428.30L189.60 430.40L187.50 432.50L185.40 430.40Z" fill="#fff" stroke="#231F20" stroke-width="0.70"/>
<path d="M187.50 444.40L189.60 446.50L187.50 448.60L185.40 446.50Z" fill="#fff" stroke="#231F20" stroke-width="0.70"/>
<line x1="213.50" y1="390.20" x2="213.50" y2="414.20" stroke="#231F20" stroke-width="0.90"/>
<line x1="211.00" y1="390.50" x2="215.40" y2="390.50" stroke="#231F20" stroke-width="0.90"/>
<line x1="211.00" y1="414.50" x2="215.40" y2="414.50" stroke="#231F20" stroke-width="0.90"/>
<path d="M213.10 382.90L215.20 385.00L213.10 387.10L211.00 385.00Z" fill="#fff" stroke="#231F20" stroke-width="0.70"/>
<path d="M206.50 392.90L208.60 395.00L206.50 397.10L204.40 395.00Z" fill="#fff" stroke="#231F20" stroke-width="0.70"/>
<path d="M219.40 391.90L221.50 394.00L219.40 396.10L217.30 394.00Z" fill="#fff" stroke="#231F20" stroke-width="0.70"/>
<path d="M213.10 398.70L215.20 400.80L213.10 402.90L211.00 400.80Z" fill="#fff" stroke="#231F20" stroke-width="0.70"/>
<circle cx="213.10" cy="407.10" r="1.70" fill="#fff" stroke="#231F20" stroke-width="0.70"/>
<circle cx="206.90" cy="417.70" r="1.70" fill="#fff" stroke="#231F20" stroke-width="0.70"/>
<circle cx="219.40" cy="416.20" r="1.70" fill="#fff" stroke="#231F20" stroke-width="0.70"/>
<line x1="239.50" y1="405.00" x2="239.50" y2="425.50" stroke="#231F20" stroke-width="0.90"/>
<line x1="237.10" y1="405.50" x2="241.50" y2="405.50" stroke="#231F20" stroke-width="0.90"/>
<line x1="237.10" y1="425.50" x2="241.50" y2="425.50" stroke="#231F20" stroke-width="0.90"/>
<path d="M239.50 401.70L241.60 403.80L239.50 405.90L237.40 403.80Z" fill="#fff" stroke="#231F20" stroke-width="0.70"/>
<path d="M233.00 407.90L235.10 410.00L233.00 412.10L230.90 410.00Z" fill="#fff" stroke="#231F20" stroke-width="0.70"/>
<path d="M245.50 410.40L247.60 412.50L245.50 414.60L243.40 412.50Z" fill="#fff" stroke="#231F20" stroke-width="0.70"/>
<path d="M239.50 410.90L241.60 413.00L239.50 415.10L237.40 413.00Z" fill="#fff" stroke="#231F20" stroke-width="0.70"/>
<circle cx="239.50" cy="419.30" r="1.70" fill="#fff" stroke="#231F20" stroke-width="0.70"/>
<circle cx="239.50" cy="434.50" r="1.70" fill="#fff" stroke="#231F20" stroke-width="0.70"/>
<line x1="265.50" y1="441.20" x2="265.50" y2="455.00" stroke="#231F20" stroke-width="0.90"/>
<line x1="263.00" y1="441.50" x2="267.00" y2="441.50" stroke="#231F20" stroke-width="0.90"/>
<line x1="263.00" y1="455.50" x2="267.00" y2="455.50" stroke="#231F20" stroke-width="0.90"/>
<path d="M258.30 442.40L260.40 444.50L258.30 446.60L256.20 444.50Z" fill="#fff" stroke="#231F20" stroke-width="0.70"/>
<path d="M271.30 438.20L273.40 440.30L271.30 442.40L269.20 440.30Z" fill="#fff" stroke="#231F20" stroke-width="0.70"/>
<circle cx="258.30" cy="455.20" r="1.70" fill="#fff" stroke="#231F20" stroke-width="0.70"/>
<circle cx="271.30" cy="453.30" r="1.70" fill="#fff" stroke="#231F20" stroke-width="0.70"/>
<line x1="291.50" y1="439.70" x2="291.50" y2="447.00" stroke="#231F20" stroke-width="0.90"/>
<line x1="289.00" y1="439.50" x2="293.00" y2="439.50" stroke="#231F20" stroke-width="0.90"/>
<line x1="289.00" y1="447.50" x2="293.00" y2="447.50" stroke="#231F20" stroke-width="0.90"/>
<path d="M284.50 435.90L286.60 438.00L284.50 440.10L282.40 438.00Z" fill="#fff" stroke="#231F20" stroke-width="0.70"/>
<path d="M289.00 438.90L291.10 441.00L289.00 443.10L286.90 441.00Z" fill="#fff" stroke="#231F20" stroke-width="0.70"/>
<path d="M297.00 438.20L299.10 440.30L297.00 442.40L294.90 440.30Z" fill="#fff" stroke="#231F20" stroke-width="0.70"/>
<circle cx="284.60" cy="443.80" r="1.70" fill="#fff" stroke="#231F20" stroke-width="0.70"/>
<circle cx="285.00" cy="448.70" r="1.70" fill="#fff" stroke="#231F20" stroke-width="0.70"/>
<circle cx="293.00" cy="447.00" r="1.70" fill="#fff" stroke="#231F20" stroke-width="0.70"/>
<circle cx="297.50" cy="445.50" r="1.70" fill="#fff" stroke="#231F20" stroke-width="0.70"/>
<circle cx="289.50" cy="445.00" r="1.70" fill="#fff" stroke="#231F20" stroke-width="0.70"/>
<line x1="317.50" y1="446.00" x2="317.50" y2="452.50" stroke="#231F20" stroke-width="0.90"/>
<line x1="315.00" y1="446.50" x2="319.00" y2="446.50" stroke="#231F20" stroke-width="0.90"/>
<line x1="315.00" y1="452.50" x2="319.00" y2="452.50" stroke="#231F20" stroke-width="0.90"/>
<path d="M313.50 442.40L315.60 444.50L313.50 446.60L311.40 444.50Z" fill="#fff" stroke="#231F20" stroke-width="0.70"/>
<path d="M318.50 442.20L320.60 444.30L318.50 446.40L316.40 444.30Z" fill="#fff" stroke="#231F20" stroke-width="0.70"/>
<circle cx="318.00" cy="449.50" r="1.70" fill="#fff" stroke="#231F20" stroke-width="0.70"/>
<circle cx="310.50" cy="453.50" r="1.70" fill="#fff" stroke="#231F20" stroke-width="0.70"/>
<circle cx="316.50" cy="452.00" r="1.70" fill="#fff" stroke="#231F20" stroke-width="0.70"/>
<circle cx="321.50" cy="452.00" r="1.70" fill="#fff" stroke="#231F20" stroke-width="0.70"/>
<line x1="342.50" y1="444.20" x2="342.50" y2="457.00" stroke="#231F20" stroke-width="0.90"/>
<line x1="340.80" y1="444.50" x2="344.80" y2="444.50" stroke="#231F20" stroke-width="0.90"/>
<line x1="340.80" y1="457.50" x2="344.80" y2="457.50" stroke="#231F20" stroke-width="0.90"/>
<path d="M336.50 443.80L338.60 445.90L336.50 448.00L334.40 445.90Z" fill="#fff" stroke="#231F20" stroke-width="0.70"/>
<path d="M349.00 441.40L351.10 443.50L349.00 445.60L346.90 443.50Z" fill="#fff" stroke="#231F20" stroke-width="0.70"/>
<circle cx="336.50" cy="456.80" r="1.70" fill="#fff" stroke="#231F20" stroke-width="0.70"/>
<circle cx="349.00" cy="455.80" r="1.70" fill="#fff" stroke="#231F20" stroke-width="0.70"/>
<line x1="368.50" y1="446.50" x2="368.50" y2="453.00" stroke="#231F20" stroke-width="0.90"/>
<line x1="366.70" y1="446.50" x2="370.70" y2="446.50" stroke="#231F20" stroke-width="0.90"/>
<line x1="366.70" y1="453.50" x2="370.70" y2="453.50" stroke="#231F20" stroke-width="0.90"/>
<path d="M362.20 442.60L364.30 444.70L362.20 446.80L360.10 444.70Z" fill="#fff" stroke="#231F20" stroke-width="0.70"/>
<path d="M367.80 442.30L369.90 444.40L367.80 446.50L365.70 444.40Z" fill="#fff" stroke="#231F20" stroke-width="0.70"/>
<circle cx="375.00" cy="449.00" r="1.70" fill="#fff" stroke="#231F20" stroke-width="0.70"/>
<circle cx="362.30" cy="451.00" r="1.70" fill="#fff" stroke="#231F20" stroke-width="0.70"/>
<circle cx="368.80" cy="452.00" r="1.70" fill="#fff" stroke="#231F20" stroke-width="0.70"/>
<circle cx="362.30" cy="457.00" r="1.70" fill="#fff" stroke="#231F20" stroke-width="0.70"/>
<circle cx="375.00" cy="455.50" r="1.70" fill="#fff" stroke="#231F20" stroke-width="0.70"/>
<path d="M394.30 444.90L396.40 447.00L394.30 449.10L392.20 447.00Z" fill="#fff" stroke="#231F20" stroke-width="0.70"/>
<path d="M391.00 449.40L393.10 451.50L391.00 453.60L388.90 451.50Z" fill="#fff" stroke="#231F20" stroke-width="0.70"/>
<path d="M398.00 449.40L400.10 451.50L398.00 453.60L395.90 451.50Z" fill="#fff" stroke="#231F20" stroke-width="0.70"/>
<circle cx="388.50" cy="455.50" r="1.70" fill="#fff" stroke="#231F20" stroke-width="0.70"/>
<circle cx="394.30" cy="455.00" r="1.70" fill="#fff" stroke="#231F20" stroke-width="0.70"/>
<circle cx="401.00" cy="455.50" r="1.70" fill="#fff" stroke="#231F20" stroke-width="0.70"/>
<text x="31.60" y="522.50" font-size="11.00" fill="#111" style="font-weight:bold" textLength="6.30" lengthAdjust="spacingAndGlyphs">F</text>
<rect x="102.40" y="598.39" width="17.60" height="22.61" fill="#E0B51C"/>
<rect x="128.80" y="596.56" width="17.60" height="24.44" fill="#55A239"/>
<rect x="155.20" y="576.74" width="17.60" height="44.26" fill="#25366C"/>
<rect x="181.60" y="580.06" width="17.60" height="40.94" fill="#5E96D6"/>
<rect x="208.00" y="609.91" width="17.60" height="11.09" fill="#E0B51C"/>
<rect x="234.40" y="610.70" width="17.60" height="10.30" fill="#55A239"/>
<rect x="260.80" y="591.14" width="17.60" height="29.86" fill="#25366C"/>
<rect x="287.20" y="602.93" width="17.60" height="18.07" fill="#5E96D6"/>
<line x1="92.50" y1="531.00" x2="92.50" y2="621.50" stroke="#231F20" stroke-width="1.00"/>
<line x1="90.10" y1="621.50" x2="92.70" y2="621.50" stroke="#231F20" stroke-width="1.00"/>
<text x="82.02" y="624.35" font-size="9.30" fill="#2b2b2b" textLength="5.28" lengthAdjust="spacingAndGlyphs">0</text>
<line x1="90.10" y1="603.50" x2="92.70" y2="603.50" stroke="#231F20" stroke-width="1.00"/>
<text x="60.90" y="606.89" font-size="9.30" fill="#2b2b2b" textLength="26.40" lengthAdjust="spacingAndGlyphs">20000</text>
<line x1="90.10" y1="586.50" x2="92.70" y2="586.50" stroke="#231F20" stroke-width="1.00"/>
<text x="60.90" y="589.43" font-size="9.30" fill="#2b2b2b" textLength="26.40" lengthAdjust="spacingAndGlyphs">40000</text>
<line x1="90.10" y1="568.50" x2="92.70" y2="568.50" stroke="#231F20" stroke-width="1.00"/>
<text x="60.90" y="571.97" font-size="9.30" fill="#2b2b2b" textLength="26.40" lengthAdjust="spacingAndGlyphs">60000</text>
<line x1="90.10" y1="551.50" x2="92.70" y2="551.50" stroke="#231F20" stroke-width="1.00"/>
<text x="60.90" y="554.51" font-size="9.30" fill="#2b2b2b" textLength="26.40" lengthAdjust="spacingAndGlyphs">80000</text>
<line x1="90.10" y1="533.50" x2="92.70" y2="533.50" stroke="#231F20" stroke-width="1.00"/>
<text x="55.62" y="537.05" font-size="9.30" fill="#2b2b2b" textLength="31.68" lengthAdjust="spacingAndGlyphs">100000</text>
<line x1="92.70" y1="621.50" x2="314.00" y2="621.50" stroke="#231F20" stroke-width="1.00"/>
<line x1="111.50" y1="621.00" x2="111.50" y2="623.20" stroke="#231F20" stroke-width="1.00"/>
<line x1="137.50" y1="621.00" x2="137.50" y2="623.20" stroke="#231F20" stroke-width="1.00"/>
<line x1="164.50" y1="621.00" x2="164.50" y2="623.20" stroke="#231F20" stroke-width="1.00"/>
<line x1="190.50" y1="621.00" x2="190.50" y2="623.20" stroke="#231F20" stroke-width="1.00"/>
<line x1="216.50" y1="621.00" x2="216.50" y2="623.20" stroke="#231F20" stroke-width="1.00"/>
<line x1="243.50" y1="621.00" x2="243.50" y2="623.20" stroke="#231F20" stroke-width="1.00"/>
<line x1="269.50" y1="621.00" x2="269.50" y2="623.20" stroke="#231F20" stroke-width="1.00"/>
<line x1="296.50" y1="621.00" x2="296.50" y2="623.20" stroke="#231F20" stroke-width="1.00"/>
<text transform="translate(49.21 575.50) rotate(-90)" x="0" y="0" font-size="9.20" fill="#2b2b2b" text-anchor="middle" textLength="38.40" lengthAdjust="spacingAndGlyphs">CD71 (MFI)</text>
<line x1="161.00" y1="543.50" x2="188.50" y2="543.50" stroke="#231F20" stroke-width="0.90"/>
<text x="174.75" y="540.80" font-size="8.00" fill="#2b2b2b" text-anchor="middle">ns</text>
<line x1="270.00" y1="566.50" x2="297.50" y2="566.50" stroke="#231F20" stroke-width="0.90"/>
<path d="M281.65 561.05L281.65 563.15M280.74 561.58L282.56 562.62M280.74 562.62L282.56 561.58" stroke="#231F20" stroke-width="0.75" stroke-linecap="round"/>
<path d="M285.85 561.05L285.85 563.15M284.94 561.58L286.76 562.62M284.94 562.62L286.76 561.58" stroke="#231F20" stroke-width="0.75" stroke-linecap="round"/>
<text x="78.70" y="634.40" font-size="7.80" fill="#2b2b2b" style="font-style:italic" textLength="15.30" lengthAdjust="spacingAndGlyphs">Hbb</text>
<text x="80.00" y="643.50" font-size="7.80" fill="#2b2b2b" style="font-style:italic" textLength="14.00" lengthAdjust="spacingAndGlyphs">miR</text>
<text x="111.20" y="634.40" font-size="7.80" fill="#2b2b2b" text-anchor="middle" textLength="13.20" lengthAdjust="spacingAndGlyphs">+/+</text>
<text x="111.20" y="643.50" font-size="7.80" fill="#2b2b2b" text-anchor="middle" textLength="13.20" lengthAdjust="spacingAndGlyphs">+/+</text>
<text x="137.60" y="634.40" font-size="7.80" fill="#2b2b2b" text-anchor="middle" textLength="13.20" lengthAdjust="spacingAndGlyphs">+/+</text>
<text x="137.60" y="643.50" font-size="7.80" fill="#2b2b2b" text-anchor="middle" textLength="11.00" lengthAdjust="spacingAndGlyphs">–/–</text>
<text x="164.00" y="634.40" font-size="7.80" fill="#2b2b2b" text-anchor="middle" textLength="18.50" lengthAdjust="spacingAndGlyphs">th3/+</text>
<text x="164.00" y="643.50" font-size="7.80" fill="#2b2b2b" text-anchor="middle" textLength="13.20" lengthAdjust="spacingAndGlyphs">+/+</text>
<text x="190.40" y="634.40" font-size="7.80" fill="#2b2b2b" text-anchor="middle" textLength="18.50" lengthAdjust="spacingAndGlyphs">th3/+</text>
<text x="190.40" y="643.50" font-size="7.80" fill="#2b2b2b" text-anchor="middle" textLength="11.00" lengthAdjust="spacingAndGlyphs">–/–</text>
<line x1="105.00" y1="645.50" x2="198.90" y2="645.50" stroke="#231F20" stroke-width="0.90"/>
<text x="151.95" y="655.60" font-size="8.00" fill="#2b2b2b" text-anchor="middle" textLength="18.80" lengthAdjust="spacingAndGlyphs">Ery.A</text>
<text x="216.80" y="634.40" font-size="7.80" fill="#2b2b2b" text-anchor="middle" textLength="13.20" lengthAdjust="spacingAndGlyphs">+/+</text>
<text x="216.80" y="643.50" font-size="7.80" fill="#2b2b2b" text-anchor="middle" textLength="13.20" lengthAdjust="spacingAndGlyphs">+/+</text>
<text x="243.20" y="634.40" font-size="7.80" fill="#2b2b2b" text-anchor="middle" textLength="13.20" lengthAdjust="spacingAndGlyphs">+/+</text>
<text x="243.20" y="643.50" font-size="7.80" fill="#2b2b2b" text-anchor="middle" textLength="11.00" lengthAdjust="spacingAndGlyphs">–/–</text>
<text x="269.60" y="634.40" font-size="7.80" fill="#2b2b2b" text-anchor="middle" textLength="18.50" lengthAdjust="spacingAndGlyphs">th3/+</text>
<text x="269.60" y="643.50" font-size="7.80" fill="#2b2b2b" text-anchor="middle" textLength="13.20" lengthAdjust="spacingAndGlyphs">+/+</text>
<text x="296.00" y="634.40" font-size="7.80" fill="#2b2b2b" text-anchor="middle" textLength="18.50" lengthAdjust="spacingAndGlyphs">th3/+</text>
<text x="296.00" y="643.50" font-size="7.80" fill="#2b2b2b" text-anchor="middle" textLength="11.00" lengthAdjust="spacingAndGlyphs">–/–</text>
<line x1="210.60" y1="645.50" x2="304.50" y2="645.50" stroke="#231F20" stroke-width="0.90"/>
<text x="257.55" y="655.60" font-size="8.00" fill="#2b2b2b" text-anchor="middle" textLength="18.80" lengthAdjust="spacingAndGlyphs">Ery.B</text>
<line x1="110.50" y1="593.00" x2="110.50" y2="603.50" stroke="#231F20" stroke-width="0.90"/>
<line x1="108.90" y1="593.50" x2="112.70" y2="593.50" stroke="#231F20" stroke-width="0.90"/>
<line x1="108.90" y1="603.50" x2="112.70" y2="603.50" stroke="#231F20" stroke-width="0.90"/>
<line x1="137.50" y1="587.00" x2="137.50" y2="603.00" stroke="#231F20" stroke-width="0.90"/>
<line x1="135.90" y1="587.50" x2="139.70" y2="587.50" stroke="#231F20" stroke-width="0.90"/>
<line x1="135.90" y1="603.50" x2="139.70" y2="603.50" stroke="#231F20" stroke-width="0.90"/>
<line x1="164.50" y1="565.30" x2="164.50" y2="588.80" stroke="#231F20" stroke-width="0.90"/>
<line x1="162.00" y1="565.50" x2="166.00" y2="565.50" stroke="#231F20" stroke-width="0.90"/>
<line x1="162.00" y1="588.50" x2="166.00" y2="588.50" stroke="#231F20" stroke-width="0.90"/>
<line x1="190.50" y1="566.50" x2="190.50" y2="589.00" stroke="#231F20" stroke-width="0.90"/>
<line x1="188.20" y1="566.50" x2="192.20" y2="566.50" stroke="#231F20" stroke-width="0.90"/>
<line x1="188.20" y1="589.50" x2="192.20" y2="589.50" stroke="#231F20" stroke-width="0.90"/>
<line x1="217.50" y1="606.00" x2="217.50" y2="614.00" stroke="#231F20" stroke-width="0.90"/>
<line x1="215.20" y1="606.50" x2="218.80" y2="606.50" stroke="#231F20" stroke-width="0.90"/>
<line x1="215.20" y1="614.50" x2="218.80" y2="614.50" stroke="#231F20" stroke-width="0.90"/>
<line x1="243.50" y1="606.00" x2="243.50" y2="615.00" stroke="#231F20" stroke-width="0.90"/>
<line x1="241.70" y1="606.50" x2="245.30" y2="606.50" stroke="#231F20" stroke-width="0.90"/>
<line x1="241.70" y1="615.50" x2="245.30" y2="615.50" stroke="#231F20" stroke-width="0.90"/>
<line x1="269.50" y1="578.50" x2="269.50" y2="603.00" stroke="#231F20" stroke-width="0.90"/>
<line x1="267.60" y1="578.50" x2="271.60" y2="578.50" stroke="#231F20" stroke-width="0.90"/>
<line x1="267.60" y1="603.50" x2="271.60" y2="603.50" stroke="#231F20" stroke-width="0.90"/>
<line x1="296.50" y1="598.00" x2="296.50" y2="606.00" stroke="#231F20" stroke-width="0.90"/>
<line x1="294.20" y1="598.50" x2="297.80" y2="598.50" stroke="#231F20" stroke-width="0.90"/>
<line x1="294.20" y1="606.50" x2="297.80" y2="606.50" stroke="#231F20" stroke-width="0.90"/>
<path d="M103.80 589.50L105.70 591.40L103.80 593.30L101.90 591.40Z" fill="#fff" stroke="#231F20" stroke-width="0.70"/>
<path d="M107.70 588.40L109.60 590.30L107.70 592.20L105.80 590.30Z" fill="#fff" stroke="#231F20" stroke-width="0.70"/>
<path d="M113.50 589.30L115.40 591.20L113.50 593.10L111.60 591.20Z" fill="#fff" stroke="#231F20" stroke-width="0.70"/>
<path d="M117.60 590.40L119.50 592.30L117.60 594.20L115.70 592.30Z" fill="#fff" stroke="#231F20" stroke-width="0.70"/>
<circle cx="107.70" cy="594.30" r="1.55" fill="#fff" stroke="#231F20" stroke-width="0.70"/>
<circle cx="111.50" cy="594.00" r="1.55" fill="#fff" stroke="#231F20" stroke-width="0.70"/>
<circle cx="115.40" cy="594.30" r="1.55" fill="#fff" stroke="#231F20" stroke-width="0.70"/>
<circle cx="103.80" cy="596.70" r="1.55" fill="#fff" stroke="#231F20" stroke-width="0.70"/>
<circle cx="109.60" cy="596.70" r="1.55" fill="#fff" stroke="#231F20" stroke-width="0.70"/>
<circle cx="113.50" cy="596.90" r="1.55" fill="#fff" stroke="#231F20" stroke-width="0.70"/>
<circle cx="118.30" cy="596.70" r="1.55" fill="#fff" stroke="#231F20" stroke-width="0.70"/>
<circle cx="107.70" cy="599.60" r="1.55" fill="#fff" stroke="#231F20" stroke-width="0.70"/>
<circle cx="111.50" cy="599.60" r="1.55" fill="#fff" stroke="#231F20" stroke-width="0.70"/>
<circle cx="115.40" cy="599.80" r="1.55" fill="#fff" stroke="#231F20" stroke-width="0.70"/>
<circle cx="103.80" cy="602.50" r="1.55" fill="#fff" stroke="#231F20" stroke-width="0.70"/>
<circle cx="107.70" cy="602.50" r="1.55" fill="#fff" stroke="#231F20" stroke-width="0.70"/>
<circle cx="111.50" cy="602.30" r="1.55" fill="#fff" stroke="#231F20" stroke-width="0.70"/>
<circle cx="115.40" cy="602.50" r="1.55" fill="#fff" stroke="#231F20" stroke-width="0.70"/>
<circle cx="119.00" cy="602.50" r="1.55" fill="#fff" stroke="#231F20" stroke-width="0.70"/>
<path d="M137.50 575.10L139.40 577.00L137.50 578.90L135.60 577.00Z" fill="#fff" stroke="#231F20" stroke-width="0.70"/>
<path d="M131.00 590.10L132.90 592.00L131.00 593.90L129.10 592.00Z" fill="#fff" stroke="#231F20" stroke-width="0.70"/>
<path d="M136.30 586.60L138.20 588.50L136.30 590.40L134.40 588.50Z" fill="#fff" stroke="#231F20" stroke-width="0.70"/>
<path d="M141.50 587.60L143.40 589.50L141.50 591.40L139.60 589.50Z" fill="#fff" stroke="#231F20" stroke-width="0.70"/>
<path d="M144.50 588.60L146.40 590.50L144.50 592.40L142.60 590.50Z" fill="#fff" stroke="#231F20" stroke-width="0.70"/>
<circle cx="133.50" cy="595.00" r="1.55" fill="#fff" stroke="#231F20" stroke-width="0.70"/>
<circle cx="130.50" cy="596.00" r="1.55" fill="#fff" stroke="#231F20" stroke-width="0.70"/>
<circle cx="144.50" cy="596.00" r="1.55" fill="#fff" stroke="#231F20" stroke-width="0.70"/>
<circle cx="136.50" cy="597.50" r="1.55" fill="#fff" stroke="#231F20" stroke-width="0.70"/>
<circle cx="139.00" cy="598.50" r="1.55" fill="#fff" stroke="#231F20" stroke-width="0.70"/>
<circle cx="136.30" cy="602.00" r="1.55" fill="#fff" stroke="#231F20" stroke-width="0.70"/>
<circle cx="136.30" cy="611.00" r="1.55" fill="#fff" stroke="#231F20" stroke-width="0.70"/>
<circle cx="139.50" cy="611.00" r="1.55" fill="#fff" stroke="#231F20" stroke-width="0.70"/>
<path d="M164.00 559.60L165.90 561.50L164.00 563.40L162.10 561.50Z" fill="#fff" stroke="#231F20" stroke-width="0.70"/>
<path d="M157.00 567.10L158.90 569.00L157.00 570.90L155.10 569.00Z" fill="#fff" stroke="#231F20" stroke-width="0.70"/>
<path d="M161.50 566.60L163.40 568.50L161.50 570.40L159.60 568.50Z" fill="#fff" stroke="#231F20" stroke-width="0.70"/>
<path d="M166.50 566.60L168.40 568.50L166.50 570.40L164.60 568.50Z" fill="#fff" stroke="#231F20" stroke-width="0.70"/>
<path d="M171.00 567.60L172.90 569.50L171.00 571.40L169.10 569.50Z" fill="#fff" stroke="#231F20" stroke-width="0.70"/>
<path d="M163.00 564.10L164.90 566.00L163.00 567.90L161.10 566.00Z" fill="#fff" stroke="#231F20" stroke-width="0.70"/>
<circle cx="157.00" cy="575.00" r="1.55" fill="#fff" stroke="#231F20" stroke-width="0.70"/>
<circle cx="161.50" cy="577.50" r="1.55" fill="#fff" stroke="#231F20" stroke-width="0.70"/>
<circle cx="166.00" cy="576.30" r="1.55" fill="#fff" stroke="#231F20" stroke-width="0.70"/>
<circle cx="171.00" cy="579.00" r="1.55" fill="#fff" stroke="#231F20" stroke-width="0.70"/>
<circle cx="166.00" cy="581.50" r="1.55" fill="#fff" stroke="#231F20" stroke-width="0.70"/>
<circle cx="161.50" cy="583.80" r="1.55" fill="#fff" stroke="#231F20" stroke-width="0.70"/>
<circle cx="166.00" cy="586.50" r="1.55" fill="#fff" stroke="#231F20" stroke-width="0.70"/>
<circle cx="164.00" cy="609.00" r="1.55" fill="#fff" stroke="#231F20" stroke-width="0.70"/>
<path d="M190.20 548.80L192.10 550.70L190.20 552.60L188.30 550.70Z" fill="#fff" stroke="#231F20" stroke-width="0.70"/>
<path d="M190.20 560.40L192.10 562.30L190.20 564.20L188.30 562.30Z" fill="#fff" stroke="#231F20" stroke-width="0.70"/>
<path d="M190.20 568.10L192.10 570.00L190.20 571.90L188.30 570.00Z" fill="#fff" stroke="#231F20" stroke-width="0.70"/>
<path d="M197.50 575.60L199.40 577.50L197.50 579.40L195.60 577.50Z" fill="#fff" stroke="#231F20" stroke-width="0.70"/>
<circle cx="183.50" cy="581.30" r="1.55" fill="#fff" stroke="#231F20" stroke-width="0.70"/>
<circle cx="190.20" cy="578.50" r="1.55" fill="#fff" stroke="#231F20" stroke-width="0.70"/>
<circle cx="197.50" cy="581.30" r="1.55" fill="#fff" stroke="#231F20" stroke-width="0.70"/>
<circle cx="190.20" cy="583.50" r="1.55" fill="#fff" stroke="#231F20" stroke-width="0.70"/>
<circle cx="190.20" cy="587.00" r="1.55" fill="#fff" stroke="#231F20" stroke-width="0.70"/>
<circle cx="183.50" cy="588.50" r="1.55" fill="#fff" stroke="#231F20" stroke-width="0.70"/>
<circle cx="197.50" cy="590.50" r="1.55" fill="#fff" stroke="#231F20" stroke-width="0.70"/>
<circle cx="190.20" cy="591.80" r="1.55" fill="#fff" stroke="#231F20" stroke-width="0.70"/>
<circle cx="190.20" cy="599.00" r="1.55" fill="#fff" stroke="#231F20" stroke-width="0.70"/>
<path d="M216.80 600.60L218.70 602.50L216.80 604.40L214.90 602.50Z" fill="#fff" stroke="#231F20" stroke-width="0.70"/>
<path d="M224.20 603.10L226.10 605.00L224.20 606.90L222.30 605.00Z" fill="#fff" stroke="#231F20" stroke-width="0.70"/>
<path d="M211.00 604.60L212.90 606.50L211.00 608.40L209.10 606.50Z" fill="#fff" stroke="#231F20" stroke-width="0.70"/>
<circle cx="214.00" cy="606.50" r="1.55" fill="#fff" stroke="#231F20" stroke-width="0.70"/>
<path d="M217.00 604.60L218.90 606.50L217.00 608.40L215.10 606.50Z" fill="#fff" stroke="#231F20" stroke-width="0.70"/>
<circle cx="220.00" cy="606.50" r="1.55" fill="#fff" stroke="#231F20" stroke-width="0.70"/>
<path d="M223.00 604.60L224.90 606.50L223.00 608.40L221.10 606.50Z" fill="#fff" stroke="#231F20" stroke-width="0.70"/>
<circle cx="209.00" cy="608.50" r="1.55" fill="#fff" stroke="#231F20" stroke-width="0.70"/>
<circle cx="213.00" cy="608.50" r="1.55" fill="#fff" stroke="#231F20" stroke-width="0.70"/>
<circle cx="217.00" cy="608.50" r="1.55" fill="#fff" stroke="#231F20" stroke-width="0.70"/>
<circle cx="221.00" cy="608.50" r="1.55" fill="#fff" stroke="#231F20" stroke-width="0.70"/>
<circle cx="211.00" cy="610.30" r="1.55" fill="#fff" stroke="#231F20" stroke-width="0.70"/>
<circle cx="215.00" cy="610.30" r="1.55" fill="#fff" stroke="#231F20" stroke-width="0.70"/>
<circle cx="219.00" cy="610.30" r="1.55" fill="#fff" stroke="#231F20" stroke-width="0.70"/>
<circle cx="223.00" cy="610.30" r="1.55" fill="#fff" stroke="#231F20" stroke-width="0.70"/>
<circle cx="213.00" cy="612.20" r="1.55" fill="#fff" stroke="#231F20" stroke-width="0.70"/>
<circle cx="217.00" cy="612.20" r="1.55" fill="#fff" stroke="#231F20" stroke-width="0.70"/>
<circle cx="221.00" cy="612.20" r="1.55" fill="#fff" stroke="#231F20" stroke-width="0.70"/>
<circle cx="215.00" cy="614.20" r="1.55" fill="#fff" stroke="#231F20" stroke-width="0.70"/>
<circle cx="219.00" cy="614.20" r="1.55" fill="#fff" stroke="#231F20" stroke-width="0.70"/>
<circle cx="216.80" cy="616.50" r="1.55" fill="#fff" stroke="#231F20" stroke-width="0.70"/>
<path d="M247.00 603.60L248.90 605.50L247.00 607.40L245.10 605.50Z" fill="#fff" stroke="#231F20" stroke-width="0.70"/>
<path d="M243.00 605.10L244.90 607.00L243.00 608.90L241.10 607.00Z" fill="#fff" stroke="#231F20" stroke-width="0.70"/>
<circle cx="237.50" cy="608.50" r="1.55" fill="#fff" stroke="#231F20" stroke-width="0.70"/>
<circle cx="241.00" cy="608.50" r="1.55" fill="#fff" stroke="#231F20" stroke-width="0.70"/>
<circle cx="244.50" cy="608.50" r="1.55" fill="#fff" stroke="#231F20" stroke-width="0.70"/>
<circle cx="248.00" cy="608.50" r="1.55" fill="#fff" stroke="#231F20" stroke-width="0.70"/>
<circle cx="250.50" cy="608.50" r="1.55" fill="#fff" stroke="#231F20" stroke-width="0.70"/>
<circle cx="236.50" cy="611.00" r="1.55" fill="#fff" stroke="#231F20" stroke-width="0.70"/>
<circle cx="240.00" cy="611.00" r="1.55" fill="#fff" stroke="#231F20" stroke-width="0.70"/>
<circle cx="244.00" cy="611.00" r="1.55" fill="#fff" stroke="#231F20" stroke-width="0.70"/>
<circle cx="248.00" cy="611.00" r="1.55" fill="#fff" stroke="#231F20" stroke-width="0.70"/>
<circle cx="240.00" cy="616.50" r="1.55" fill="#fff" stroke="#231F20" stroke-width="0.70"/>
<circle cx="243.00" cy="616.00" r="1.55" fill="#fff" stroke="#231F20" stroke-width="0.70"/>
<circle cx="246.00" cy="616.50" r="1.55" fill="#fff" stroke="#231F20" stroke-width="0.70"/>
<path d="M269.60 572.60L271.50 574.50L269.60 576.40L267.70 574.50Z" fill="#fff" stroke="#231F20" stroke-width="0.70"/>
<path d="M266.00 576.60L267.90 578.50L266.00 580.40L264.10 578.50Z" fill="#fff" stroke="#231F20" stroke-width="0.70"/>
<path d="M273.30 577.10L275.20 579.00L273.30 580.90L271.40 579.00Z" fill="#fff" stroke="#231F20" stroke-width="0.70"/>
<path d="M269.60 583.60L271.50 585.50L269.60 587.40L267.70 585.50Z" fill="#fff" stroke="#231F20" stroke-width="0.70"/>
<path d="M262.80 585.60L264.70 587.50L262.80 589.40L260.90 587.50Z" fill="#fff" stroke="#231F20" stroke-width="0.70"/>
<path d="M276.80 581.60L278.70 583.50L276.80 585.40L274.90 583.50Z" fill="#fff" stroke="#231F20" stroke-width="0.70"/>
<path d="M276.50 587.60L278.40 589.50L276.50 591.40L274.60 589.50Z" fill="#fff" stroke="#231F20" stroke-width="0.70"/>
<circle cx="269.60" cy="591.50" r="1.55" fill="#fff" stroke="#231F20" stroke-width="0.70"/>
<circle cx="269.60" cy="597.50" r="1.55" fill="#fff" stroke="#231F20" stroke-width="0.70"/>
<circle cx="262.80" cy="601.00" r="1.55" fill="#fff" stroke="#231F20" stroke-width="0.70"/>
<circle cx="269.60" cy="602.00" r="1.55" fill="#fff" stroke="#231F20" stroke-width="0.70"/>
<circle cx="276.50" cy="601.50" r="1.55" fill="#fff" stroke="#231F20" stroke-width="0.70"/>
<circle cx="269.60" cy="613.00" r="1.55" fill="#fff" stroke="#231F20" stroke-width="0.70"/>
<path d="M294.50 592.10L296.40 594.00L294.50 595.90L292.60 594.00Z" fill="#fff" stroke="#231F20" stroke-width="0.70"/>
<path d="M298.50 592.10L300.40 594.00L298.50 595.90L296.60 594.00Z" fill="#fff" stroke="#231F20" stroke-width="0.70"/>
<path d="M289.00 598.10L290.90 600.00L289.00 601.90L287.10 600.00Z" fill="#fff" stroke="#231F20" stroke-width="0.70"/>
<path d="M293.00 599.60L294.90 601.50L293.00 603.40L291.10 601.50Z" fill="#fff" stroke="#231F20" stroke-width="0.70"/>
<path d="M303.00 598.10L304.90 600.00L303.00 601.90L301.10 600.00Z" fill="#fff" stroke="#231F20" stroke-width="0.70"/>
<path d="M299.00 599.60L300.90 601.50L299.00 603.40L297.10 601.50Z" fill="#fff" stroke="#231F20" stroke-width="0.70"/>
<circle cx="296.00" cy="604.00" r="1.55" fill="#fff" stroke="#231F20" stroke-width="0.70"/>
<circle cx="292.50" cy="606.00" r="1.55" fill="#fff" stroke="#231F20" stroke-width="0.70"/>
<circle cx="300.00" cy="606.00" r="1.55" fill="#fff" stroke="#231F20" stroke-width="0.70"/>
<circle cx="296.00" cy="607.50" r="1.55" fill="#fff" stroke="#231F20" stroke-width="0.70"/>
<circle cx="289.30" cy="609.50" r="1.55" fill="#fff" stroke="#231F20" stroke-width="0.70"/>
<circle cx="303.00" cy="610.00" r="1.55" fill="#fff" stroke="#231F20" stroke-width="0.70"/>
<text x="329.80" y="522.10" font-size="11.00" fill="#111" style="font-weight:bold" textLength="9.00" lengthAdjust="spacingAndGlyphs">G</text>
<rect x="387.60" y="601.73" width="16.80" height="19.47" fill="#E0B51C"/>
<rect x="412.80" y="607.93" width="16.80" height="13.27" fill="#55A239"/>
<rect x="438.00" y="567.22" width="16.80" height="53.99" fill="#25366C"/>
<rect x="463.20" y="599.08" width="16.80" height="22.12" fill="#5E96D6"/>
<line x1="379.50" y1="530.00" x2="379.50" y2="621.70" stroke="#231F20" stroke-width="1.00"/>
<line x1="376.40" y1="621.50" x2="379.00" y2="621.50" stroke="#231F20" stroke-width="1.00"/>
<text x="367.80" y="624.73" font-size="9.80" fill="#2b2b2b" textLength="5.80" lengthAdjust="spacingAndGlyphs">0</text>
<line x1="376.40" y1="591.50" x2="379.00" y2="591.50" stroke="#231F20" stroke-width="1.00"/>
<text x="367.80" y="595.23" font-size="9.80" fill="#2b2b2b" textLength="5.80" lengthAdjust="spacingAndGlyphs">1</text>
<line x1="376.40" y1="562.50" x2="379.00" y2="562.50" stroke="#231F20" stroke-width="1.00"/>
<text x="367.80" y="565.73" font-size="9.80" fill="#2b2b2b" textLength="5.80" lengthAdjust="spacingAndGlyphs">2</text>
<line x1="376.40" y1="532.50" x2="379.00" y2="532.50" stroke="#231F20" stroke-width="1.00"/>
<text x="367.80" y="536.23" font-size="9.80" fill="#2b2b2b" textLength="5.80" lengthAdjust="spacingAndGlyphs">3</text>
<line x1="379.00" y1="621.50" x2="488.50" y2="621.50" stroke="#231F20" stroke-width="1.00"/>
<line x1="396.50" y1="621.20" x2="396.50" y2="623.40" stroke="#231F20" stroke-width="1.00"/>
<line x1="421.50" y1="621.20" x2="421.50" y2="623.40" stroke="#231F20" stroke-width="1.00"/>
<line x1="446.50" y1="621.20" x2="446.50" y2="623.40" stroke="#231F20" stroke-width="1.00"/>
<line x1="471.50" y1="621.20" x2="471.50" y2="623.40" stroke="#231F20" stroke-width="1.00"/>
<text transform="translate(350.50 576.30) rotate(-90)" x="0" y="0" font-size="8.60" fill="#2b2b2b" text-anchor="middle" textLength="51.60" lengthAdjust="spacingAndGlyphs">Non-heme iron</text>
<text transform="translate(361.30 575.50) rotate(-90)" x="0" y="0" font-size="8.60" fill="#2b2b2b" text-anchor="middle" textLength="56.30" lengthAdjust="spacingAndGlyphs">(µM/µg protein)</text>
<line x1="395.70" y1="543.50" x2="444.60" y2="543.50" stroke="#231F20" stroke-width="0.90"/>
<path d="M420.15 537.75L420.15 539.85M419.24 538.28L421.06 539.33M419.24 539.33L421.06 538.28" stroke="#231F20" stroke-width="0.75" stroke-linecap="round"/>
<line x1="446.50" y1="543.50" x2="474.60" y2="543.50" stroke="#231F20" stroke-width="0.90"/>
<path d="M460.55 537.75L460.55 539.85M459.64 538.28L461.46 539.33M459.64 539.33L461.46 538.28" stroke="#231F20" stroke-width="0.75" stroke-linecap="round"/>
<text x="364.00" y="633.70" font-size="7.80" fill="#2b2b2b" textLength="15.00" lengthAdjust="spacingAndGlyphs">Hbb</text>
<text x="365.60" y="643.30" font-size="7.80" fill="#2b2b2b" style="font-style:italic" textLength="13.60" lengthAdjust="spacingAndGlyphs">miR</text>
<text x="396.00" y="633.50" font-size="7.80" fill="#2b2b2b" text-anchor="middle" textLength="11.80" lengthAdjust="spacingAndGlyphs">+/+</text>
<text x="396.00" y="643.50" font-size="7.80" fill="#2b2b2b" text-anchor="middle" textLength="11.80" lengthAdjust="spacingAndGlyphs">+/+</text>
<text x="421.20" y="633.50" font-size="7.80" fill="#2b2b2b" text-anchor="middle" textLength="11.80" lengthAdjust="spacingAndGlyphs">+/+</text>
<text x="421.20" y="643.50" font-size="7.80" fill="#2b2b2b" text-anchor="middle" textLength="10.80" lengthAdjust="spacingAndGlyphs">–/–</text>
<text x="446.40" y="633.50" font-size="7.80" fill="#2b2b2b" text-anchor="middle" textLength="20.00" lengthAdjust="spacingAndGlyphs">th3/+</text>
<text x="446.40" y="643.50" font-size="7.80" fill="#2b2b2b" text-anchor="middle" textLength="11.80" lengthAdjust="spacingAndGlyphs">+/+</text>
<text x="471.60" y="633.50" font-size="7.80" fill="#2b2b2b" text-anchor="middle" textLength="20.00" lengthAdjust="spacingAndGlyphs">th3/+</text>
<text x="471.60" y="643.50" font-size="7.80" fill="#2b2b2b" text-anchor="middle" textLength="10.80" lengthAdjust="spacingAndGlyphs">–/–</text>
<line x1="396.50" y1="596.50" x2="396.50" y2="607.00" stroke="#231F20" stroke-width="0.90"/>
<line x1="394.00" y1="596.50" x2="398.00" y2="596.50" stroke="#231F20" stroke-width="0.90"/>
<line x1="394.00" y1="607.50" x2="398.00" y2="607.50" stroke="#231F20" stroke-width="0.90"/>
<path d="M396.00 593.90L398.10 596.00L396.00 598.10L393.90 596.00Z" fill="#fff" stroke="#231F20" stroke-width="0.70"/>
<circle cx="393.00" cy="604.50" r="1.70" fill="#fff" stroke="#231F20" stroke-width="0.70"/>
<circle cx="398.50" cy="604.00" r="1.70" fill="#fff" stroke="#231F20" stroke-width="0.70"/>
<circle cx="396.00" cy="606.50" r="1.70" fill="#fff" stroke="#231F20" stroke-width="0.70"/>
<line x1="421.50" y1="604.50" x2="421.50" y2="612.00" stroke="#231F20" stroke-width="0.90"/>
<line x1="419.20" y1="604.50" x2="423.20" y2="604.50" stroke="#231F20" stroke-width="0.90"/>
<line x1="419.20" y1="612.50" x2="423.20" y2="612.50" stroke="#231F20" stroke-width="0.90"/>
<path d="M425.00 601.70L427.10 603.80L425.00 605.90L422.90 603.80Z" fill="#fff" stroke="#231F20" stroke-width="0.70"/>
<circle cx="417.20" cy="606.50" r="1.70" fill="#fff" stroke="#231F20" stroke-width="0.70"/>
<circle cx="421.20" cy="609.50" r="1.70" fill="#fff" stroke="#231F20" stroke-width="0.70"/>
<circle cx="424.70" cy="610.00" r="1.70" fill="#fff" stroke="#231F20" stroke-width="0.70"/>
<circle cx="418.20" cy="612.00" r="1.70" fill="#fff" stroke="#231F20" stroke-width="0.70"/>
<line x1="446.50" y1="549.00" x2="446.50" y2="584.50" stroke="#231F20" stroke-width="0.90"/>
<line x1="444.20" y1="549.50" x2="448.60" y2="549.50" stroke="#231F20" stroke-width="0.90"/>
<line x1="444.20" y1="584.50" x2="448.60" y2="584.50" stroke="#231F20" stroke-width="0.90"/>
<circle cx="446.40" cy="548.20" r="1.70" fill="#fff" stroke="#231F20" stroke-width="0.70"/>
<circle cx="442.60" cy="576.70" r="1.60" fill="#fff" stroke="none" stroke-width="0.00"/>
<circle cx="450.20" cy="576.70" r="1.60" fill="#fff" stroke="none" stroke-width="0.00"/>
<line x1="471.50" y1="596.00" x2="471.50" y2="606.00" stroke="#231F20" stroke-width="0.90"/>
<line x1="469.60" y1="596.50" x2="473.60" y2="596.50" stroke="#231F20" stroke-width="0.90"/>
<line x1="469.60" y1="606.50" x2="473.60" y2="606.50" stroke="#231F20" stroke-width="0.90"/>
<path d="M468.10 595.40L470.20 597.50L468.10 599.60L466.00 597.50Z" fill="#fff" stroke="#231F20" stroke-width="0.70"/>
<circle cx="475.60" cy="596.00" r="1.70" fill="#fff" stroke="#231F20" stroke-width="0.70"/>
<circle cx="469.60" cy="601.50" r="1.70" fill="#fff" stroke="#231F20" stroke-width="0.70"/>
<circle cx="475.40" cy="601.00" r="1.70" fill="#fff" stroke="#231F20" stroke-width="0.70"/>
<circle cx="471.60" cy="605.50" r="1.70" fill="#fff" stroke="#231F20" stroke-width="0.70"/>
<rect x="0.5" y="0.5" width="519" height="663" fill="none" stroke="#3a3a3a" stroke-width="1.2"/>
</svg>
</body></html>
